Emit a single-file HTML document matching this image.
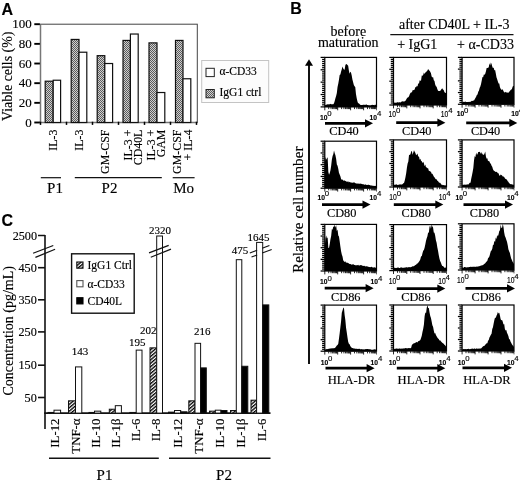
<!DOCTYPE html>
<html><head><meta charset="utf-8"><title>Figure</title>
<style>
html,body{margin:0;padding:0;background:#fff;}
body{width:520px;height:482px;overflow:hidden;font-family:"Liberation Serif",serif;}
svg{display:block}
text{fill:#000;stroke:#000;stroke-width:0.15px}
</style></head><body>
<svg width="520" height="482" viewBox="0 0 520 482">
<defs>
<pattern id="chk" width="2" height="2" patternUnits="userSpaceOnUse"><rect width="2" height="2" fill="#cfcfcf"/><rect width="1" height="1" fill="#5c5c5c"/><rect x="1" y="1" width="1" height="1" fill="#5c5c5c"/></pattern>
<pattern id="hat" width="2.6" height="2.6" patternUnits="userSpaceOnUse" patternTransform="rotate(-40)"><rect width="2.6" height="2.6" fill="#fff"/><rect width="2.6" height="1.35" fill="#000"/></pattern>
<filter id="soft" x="0" y="0" width="100%" height="100%" filterUnits="userSpaceOnUse" color-interpolation-filters="sRGB"><feGaussianBlur stdDeviation="0.4"/></filter>
</defs>
<rect width="520" height="482" fill="#fff"/>
<g filter="url(#soft)">
<text x="1.5" y="14.5" font-size="16" text-anchor="start" font-family="Liberation Sans, sans-serif" font-weight="bold" >A</text>
<rect x="40.5" y="24.2" width="156.8" height="98.3" fill="#fff" stroke="#444" stroke-width="1"/>
<line x1="40.5" y1="24.2" x2="40.5" y2="122.5" stroke="#777" stroke-width="1.5"/>
<line x1="39.8" y1="122.5" x2="197.3" y2="122.5" stroke="#777" stroke-width="1.5"/>
<line x1="34.3" y1="122.5" x2="39.9" y2="122.5" stroke="#000" stroke-width="1.9"/>
<text x="31.8" y="126.7" font-size="13" text-anchor="end" font-family="Liberation Serif, serif" font-weight="normal" >0</text>
<line x1="34.3" y1="102.84" x2="39.9" y2="102.84" stroke="#000" stroke-width="1.9"/>
<text x="31.8" y="107.04" font-size="13" text-anchor="end" font-family="Liberation Serif, serif" font-weight="normal" >20</text>
<line x1="34.3" y1="83.18" x2="39.9" y2="83.18" stroke="#000" stroke-width="1.9"/>
<text x="31.8" y="87.38000000000001" font-size="13" text-anchor="end" font-family="Liberation Serif, serif" font-weight="normal" >40</text>
<line x1="34.3" y1="63.52" x2="39.9" y2="63.52" stroke="#000" stroke-width="1.9"/>
<text x="31.8" y="67.72" font-size="13" text-anchor="end" font-family="Liberation Serif, serif" font-weight="normal" >60</text>
<line x1="34.3" y1="43.86" x2="39.9" y2="43.86" stroke="#000" stroke-width="1.9"/>
<text x="31.8" y="48.06" font-size="13" text-anchor="end" font-family="Liberation Serif, serif" font-weight="normal" >80</text>
<line x1="34.3" y1="24.200000000000003" x2="39.9" y2="24.200000000000003" stroke="#000" stroke-width="1.9"/>
<text x="31.8" y="28.400000000000002" font-size="13" text-anchor="end" font-family="Liberation Serif, serif" font-weight="normal" >100</text>
<line x1="40.5" y1="121.7" x2="40.5" y2="124.9" stroke="#000" stroke-width="1.5"/>
<line x1="66.5" y1="121.7" x2="66.5" y2="124.9" stroke="#000" stroke-width="1.5"/>
<line x1="92.5" y1="121.7" x2="92.5" y2="124.9" stroke="#000" stroke-width="1.5"/>
<line x1="118.5" y1="121.7" x2="118.5" y2="124.9" stroke="#000" stroke-width="1.5"/>
<line x1="144.5" y1="121.7" x2="144.5" y2="124.9" stroke="#000" stroke-width="1.5"/>
<line x1="170.5" y1="121.7" x2="170.5" y2="124.9" stroke="#000" stroke-width="1.5"/>
<line x1="196.5" y1="121.7" x2="196.5" y2="124.9" stroke="#000" stroke-width="1.5"/>
<text transform="translate(12.3,121) rotate(-90)" font-size="13.9" text-anchor="start" font-family="Liberation Serif, serif">Viable cells (%)</text>
<rect x="45.20" y="81.21" width="8.00" height="41.29" fill="url(#chk)" stroke="#111" stroke-width="1.2"/>
<rect x="53.20" y="80.23" width="7.40" height="42.27" fill="#fff" stroke="#111" stroke-width="1.2"/>
<rect x="71.20" y="39.44" width="7.80" height="83.06" fill="url(#chk)" stroke="#111" stroke-width="1.2"/>
<rect x="79.00" y="52.22" width="7.80" height="70.28" fill="#fff" stroke="#111" stroke-width="1.2"/>
<rect x="97.20" y="55.66" width="7.60" height="66.84" fill="url(#chk)" stroke="#111" stroke-width="1.2"/>
<rect x="104.80" y="63.52" width="7.80" height="58.98" fill="#fff" stroke="#111" stroke-width="1.2"/>
<rect x="123.00" y="40.42" width="7.40" height="82.08" fill="url(#chk)" stroke="#111" stroke-width="1.2"/>
<rect x="130.40" y="34.03" width="7.80" height="88.47" fill="#fff" stroke="#111" stroke-width="1.2"/>
<rect x="149.00" y="42.88" width="8.00" height="79.62" fill="url(#chk)" stroke="#111" stroke-width="1.2"/>
<rect x="157.00" y="92.52" width="7.80" height="29.98" fill="#fff" stroke="#111" stroke-width="1.2"/>
<rect x="175.50" y="40.42" width="7.50" height="82.08" fill="url(#chk)" stroke="#111" stroke-width="1.2"/>
<rect x="183.00" y="78.76" width="7.80" height="43.74" fill="#fff" stroke="#111" stroke-width="1.2"/>
<text transform="translate(57,129.6) rotate(-90)" font-size="11.9" text-anchor="end" font-family="Liberation Serif, serif">IL-3</text>
<text transform="translate(83,129.6) rotate(-90)" font-size="11.9" text-anchor="end" font-family="Liberation Serif, serif">IL-3</text>
<text transform="translate(109,129.6) rotate(-90)" font-size="11.9" text-anchor="end" font-family="Liberation Serif, serif">GM-CSF</text>
<text transform="translate(132,129.6) rotate(-90)" font-size="11.9" text-anchor="end" font-family="Liberation Serif, serif">IL-3 +</text>
<text transform="translate(142,129.6) rotate(-90)" font-size="11.9" text-anchor="end" font-family="Liberation Serif, serif">CD40L</text>
<text transform="translate(154.5,129.6) rotate(-90)" font-size="11.9" text-anchor="end" font-family="Liberation Serif, serif">IL-3 +</text>
<text transform="translate(164.5,129.6) rotate(-90)" font-size="11.9" text-anchor="end" font-family="Liberation Serif, serif">GAM</text>
<text transform="translate(181,129.6) rotate(-90)" font-size="11.9" text-anchor="end" font-family="Liberation Serif, serif">GM-CSF</text>
<text transform="translate(191.5,129.6) rotate(-90)" font-size="11.9" text-anchor="end" font-family="Liberation Serif, serif">+ IL-4</text>
<line x1="40.8" y1="177.7" x2="61" y2="177.7" stroke="#111" stroke-width="1.2"/>
<line x1="74.8" y1="177.7" x2="161.8" y2="177.7" stroke="#111" stroke-width="1.2"/>
<line x1="172.7" y1="177.7" x2="194.6" y2="177.7" stroke="#111" stroke-width="1.2"/>
<text x="55" y="193" font-size="15" text-anchor="middle" font-family="Liberation Serif, serif" font-weight="normal" >P1</text>
<text x="109.5" y="193" font-size="15" text-anchor="middle" font-family="Liberation Serif, serif" font-weight="normal" >P2</text>
<text x="183.7" y="193" font-size="15" text-anchor="middle" font-family="Liberation Serif, serif" font-weight="normal" >Mo</text>
<rect x="201.7" y="60.5" width="67" height="42" fill="#fcfcfc" stroke="#c4c4c4" stroke-width="1"/>
<rect x="206.00" y="68.30" width="8.30" height="8.30" fill="#fff" stroke="#222" stroke-width="1"/>
<text x="219.5" y="75" font-size="11.5" text-anchor="start" font-family="Liberation Serif, serif" font-weight="normal" >α-CD33</text>
<rect x="206.00" y="89.50" width="8.30" height="8.30" fill="url(#chk)" stroke="#222" stroke-width="1"/>
<text x="219.5" y="96" font-size="11.5" text-anchor="start" font-family="Liberation Serif, serif" font-weight="normal" >IgG1 ctrl</text>
<text x="1.5" y="226" font-size="16" text-anchor="start" font-family="Liberation Sans, sans-serif" font-weight="bold" >C</text>
<line x1="45" y1="235" x2="45" y2="429" stroke="#111" stroke-width="1.6"/>
<line x1="44.2" y1="413.1" x2="270.5" y2="413.1" stroke="#111" stroke-width="1.6"/>
<line x1="38" y1="397.5" x2="45" y2="397.5" stroke="#111" stroke-width="1.6"/>
<text x="36.8" y="401.7" font-size="12.2" text-anchor="end" font-family="Liberation Serif, serif" font-weight="normal" >50</text>
<line x1="38" y1="365.2" x2="45" y2="365.2" stroke="#111" stroke-width="1.6"/>
<text x="36.8" y="369.4" font-size="12.2" text-anchor="end" font-family="Liberation Serif, serif" font-weight="normal" >150</text>
<line x1="38" y1="331.9" x2="45" y2="331.9" stroke="#111" stroke-width="1.6"/>
<text x="36.8" y="336.09999999999997" font-size="12.2" text-anchor="end" font-family="Liberation Serif, serif" font-weight="normal" >250</text>
<line x1="38" y1="299.8" x2="45" y2="299.8" stroke="#111" stroke-width="1.6"/>
<text x="36.8" y="304.0" font-size="12.2" text-anchor="end" font-family="Liberation Serif, serif" font-weight="normal" >350</text>
<line x1="38" y1="267.7" x2="45" y2="267.7" stroke="#111" stroke-width="1.6"/>
<text x="36.8" y="271.9" font-size="12.2" text-anchor="end" font-family="Liberation Serif, serif" font-weight="normal" >450</text>
<line x1="38" y1="235.5" x2="45" y2="235.5" stroke="#111" stroke-width="1.5"/>
<text x="37" y="239.5" font-size="12.2" text-anchor="end" font-family="Liberation Serif, serif" font-weight="normal" >2500</text>
<line x1="35.4" y1="257.4" x2="55.1" y2="249.3" stroke="#111" stroke-width="1.2"/>
<line x1="33.1" y1="253.3" x2="53.3" y2="245.5" stroke="#111" stroke-width="1.2"/>
<text transform="translate(12.5,395.5) rotate(-90)" font-size="14" text-anchor="start" font-family="Liberation Serif, serif">Concentration (pg/mL)</text>
<rect x="71.60" y="253.80" width="62.60" height="59.40" fill="#fff" stroke="#111" stroke-width="1.4"/>
<rect x="76.80" y="262.00" width="6.20" height="6.20" fill="url(#hat)" stroke="#111" stroke-width="1.1"/>
<rect x="76.80" y="280.60" width="6.20" height="6.20" fill="#fff" stroke="#555" stroke-width="1.1"/>
<rect x="76.80" y="297.70" width="6.20" height="6.20" fill="#000" stroke="#000" stroke-width="1.1"/>
<text x="87.5" y="269.2" font-size="11.5" text-anchor="start" font-family="Liberation Serif, serif" font-weight="normal" >IgG1 Ctrl</text>
<text x="87.5" y="287.6" font-size="11.5" text-anchor="start" font-family="Liberation Serif, serif" font-weight="normal" >α-CD33</text>
<text x="87.5" y="305" font-size="11.5" text-anchor="start" font-family="Liberation Serif, serif" font-weight="normal" >CD40L</text>
<rect x="48.00" y="412.45" width="6.00" height="0.65" fill="url(#hat)" stroke="#111" stroke-width="1"/>
<rect x="54.00" y="410.19" width="6.60" height="2.91" fill="#fff" stroke="#111" stroke-width="1"/>
<rect x="68.50" y="400.83" width="7.00" height="12.27" fill="url(#hat)" stroke="#111" stroke-width="1"/>
<rect x="75.50" y="366.91" width="6.30" height="46.19" fill="#fff" stroke="#111" stroke-width="1"/>
<rect x="89.00" y="412.45" width="5.50" height="0.65" fill="url(#hat)" stroke="#111" stroke-width="1"/>
<rect x="94.50" y="411.16" width="6.30" height="1.94" fill="#fff" stroke="#111" stroke-width="1"/>
<rect x="109.30" y="409.22" width="6.00" height="3.88" fill="url(#hat)" stroke="#111" stroke-width="1"/>
<rect x="115.30" y="405.67" width="6.10" height="7.43" fill="#fff" stroke="#111" stroke-width="1"/>
<rect x="129.80" y="412.45" width="6.40" height="0.65" fill="url(#hat)" stroke="#111" stroke-width="1"/>
<rect x="136.20" y="350.12" width="5.80" height="62.99" fill="#fff" stroke="#111" stroke-width="1"/>
<rect x="150.00" y="347.85" width="6.70" height="65.25" fill="url(#hat)" stroke="#111" stroke-width="1"/>
<rect x="156.70" y="236.00" width="5.80" height="177.10" fill="#fff" stroke="#111" stroke-width="1"/>
<rect x="168.50" y="412.13" width="6.00" height="0.97" fill="url(#hat)" stroke="#111" stroke-width="1"/>
<rect x="174.50" y="410.52" width="6.20" height="2.58" fill="#fff" stroke="#111" stroke-width="1"/>
<rect x="180.70" y="411.81" width="6.30" height="1.29" fill="#000" stroke="#111" stroke-width="1"/>
<rect x="188.80" y="400.83" width="6.20" height="12.27" fill="url(#hat)" stroke="#111" stroke-width="1"/>
<rect x="195.00" y="343.33" width="5.60" height="69.77" fill="#fff" stroke="#111" stroke-width="1"/>
<rect x="200.60" y="367.88" width="5.70" height="45.22" fill="#000" stroke="#111" stroke-width="1"/>
<rect x="209.50" y="411.16" width="5.80" height="1.94" fill="url(#hat)" stroke="#111" stroke-width="1"/>
<rect x="215.30" y="410.19" width="5.70" height="2.91" fill="#fff" stroke="#111" stroke-width="1"/>
<rect x="221.00" y="410.52" width="6.00" height="2.58" fill="#000" stroke="#111" stroke-width="1"/>
<rect x="230.50" y="410.52" width="5.80" height="2.58" fill="url(#hat)" stroke="#111" stroke-width="1"/>
<rect x="236.30" y="259.68" width="5.50" height="153.43" fill="#fff" stroke="#111" stroke-width="1"/>
<rect x="241.80" y="366.27" width="6.00" height="46.83" fill="#000" stroke="#111" stroke-width="1"/>
<rect x="251.00" y="400.18" width="5.60" height="12.92" fill="url(#hat)" stroke="#111" stroke-width="1"/>
<rect x="256.60" y="242.40" width="6.10" height="170.70" fill="#fff" stroke="#111" stroke-width="1"/>
<rect x="262.70" y="304.90" width="6.10" height="108.20" fill="#000" stroke="#111" stroke-width="1"/>
<line x1="149" y1="252.9" x2="168.7" y2="245.4" stroke="#111" stroke-width="1.2"/>
<line x1="150.8" y1="257.2" x2="171" y2="249.1" stroke="#111" stroke-width="1.2"/>
<line x1="249.80" y1="253.00" x2="257.10" y2="250.21" stroke="#111" stroke-width="1.1"/>
<line x1="262.20" y1="248.26" x2="269.40" y2="245.50" stroke="#111" stroke-width="1.1"/>
<line x1="251.50" y1="257.10" x2="257.10" y2="254.99" stroke="#111" stroke-width="1.1"/>
<line x1="262.20" y1="253.07" x2="271.70" y2="249.50" stroke="#111" stroke-width="1.1"/>
<text x="160" y="233.8" font-size="11" text-anchor="middle" font-family="Liberation Serif, serif" font-weight="normal" >2320</text>
<text x="148.3" y="333.8" font-size="11" text-anchor="middle" font-family="Liberation Serif, serif" font-weight="normal" >202</text>
<text x="137.3" y="345.6" font-size="11" text-anchor="middle" font-family="Liberation Serif, serif" font-weight="normal" >195</text>
<text x="80.1" y="354.9" font-size="11" text-anchor="middle" font-family="Liberation Serif, serif" font-weight="normal" >143</text>
<text x="202.3" y="335" font-size="11" text-anchor="middle" font-family="Liberation Serif, serif" font-weight="normal" >216</text>
<text x="240" y="254" font-size="11" text-anchor="middle" font-family="Liberation Serif, serif" font-weight="normal" >475</text>
<text x="258.4" y="241.2" font-size="11" text-anchor="middle" font-family="Liberation Serif, serif" font-weight="normal" >1645</text>
<text transform="translate(59,418.5) rotate(-90)" font-size="12.8" text-anchor="end" font-family="Liberation Serif, serif">IL-12</text>
<text transform="translate(79.5,418.5) rotate(-90)" font-size="12.8" text-anchor="end" font-family="Liberation Serif, serif">TNF-α</text>
<text transform="translate(100,418.5) rotate(-90)" font-size="12.8" text-anchor="end" font-family="Liberation Serif, serif">IL-10</text>
<text transform="translate(120.3,418.5) rotate(-90)" font-size="12.8" text-anchor="end" font-family="Liberation Serif, serif">IL-1β</text>
<text transform="translate(139.5,418.5) rotate(-90)" font-size="12.8" text-anchor="end" font-family="Liberation Serif, serif">IL-6</text>
<text transform="translate(160,418.5) rotate(-90)" font-size="12.8" text-anchor="end" font-family="Liberation Serif, serif">IL-8</text>
<text transform="translate(182,418.5) rotate(-90)" font-size="12.8" text-anchor="end" font-family="Liberation Serif, serif">IL-12</text>
<text transform="translate(203.3,418.5) rotate(-90)" font-size="12.8" text-anchor="end" font-family="Liberation Serif, serif">TNF-α</text>
<text transform="translate(224.3,418.5) rotate(-90)" font-size="12.8" text-anchor="end" font-family="Liberation Serif, serif">IL-10</text>
<text transform="translate(245.3,418.5) rotate(-90)" font-size="12.8" text-anchor="end" font-family="Liberation Serif, serif">IL-1β</text>
<text transform="translate(265.5,418.5) rotate(-90)" font-size="12.8" text-anchor="end" font-family="Liberation Serif, serif">IL-6</text>
<line x1="49" y1="458.3" x2="158.8" y2="458.3" stroke="#111" stroke-width="1.4"/>
<line x1="169" y1="458.3" x2="270.5" y2="458.3" stroke="#111" stroke-width="1.4"/>
<text x="104.5" y="480" font-size="15" text-anchor="middle" font-family="Liberation Serif, serif" font-weight="normal" >P1</text>
<text x="224" y="480" font-size="15" text-anchor="middle" font-family="Liberation Serif, serif" font-weight="normal" >P2</text>
<text x="290.3" y="13.8" font-size="16" text-anchor="start" font-family="Liberation Sans, sans-serif" font-weight="bold" >B</text>
<text x="348.3" y="35.8" font-size="14" text-anchor="middle" font-family="Liberation Serif, serif" font-weight="normal" >before</text>
<text x="348.3" y="46.6" font-size="14" text-anchor="middle" font-family="Liberation Serif, serif" font-weight="normal" >maturation</text>
<text x="454.2" y="29" font-size="14" text-anchor="middle" font-family="Liberation Serif, serif" font-weight="normal" >after CD40L + IL-3</text>
<line x1="390.3" y1="34.6" x2="513.5" y2="34.6" stroke="#111" stroke-width="1.4"/>
<text x="417.3" y="48.5" font-size="14" text-anchor="middle" font-family="Liberation Serif, serif" font-weight="normal" >+ IgG1</text>
<text x="485.5" y="48.5" font-size="14" text-anchor="middle" font-family="Liberation Serif, serif" font-weight="normal" >+ α-CD33</text>
<line x1="309" y1="64" x2="309" y2="364" stroke="#111" stroke-width="2"/>
<polygon points="309,59.3 305,65.8 313,65.8" fill="#000"/>
<text transform="translate(303,273) rotate(-90)" font-size="15.2" text-anchor="start" font-family="Liberation Serif, serif">Relative cell number</text>
<rect x="324.8" y="57.4" width="51.7" height="49.5" fill="#fff" stroke="#000" stroke-width="1.2"/>
<path d="M324.80,106.90L324.80,105.36L325.51,105.06L326.22,104.65L326.92,104.44L327.63,104.33L328.34,104.52L329.05,103.96L329.76,104.42L330.47,103.82L331.17,104.16L331.88,104.23L332.59,104.13L333.30,104.36L334.01,103.33L334.72,101.08L335.42,98.22L336.13,95.93L336.84,92.91L337.55,87.11L338.26,83.83L338.96,79.77L339.67,74.93L340.38,74.44L341.09,71.43L341.80,69.23L342.51,66.45L343.21,68.41L343.92,69.57L344.63,69.66L345.34,65.17L346.05,64.08L346.75,64.33L347.46,65.02L348.17,65.83L348.88,70.46L349.59,73.65L350.30,71.79L351.00,72.60L351.71,75.52L352.42,79.43L353.13,82.27L353.84,84.95L354.55,86.32L355.25,86.88L355.96,94.09L356.67,98.01L357.38,101.25L358.09,103.16L358.79,103.34L359.50,104.04L360.21,104.76L360.92,104.94L361.63,104.99L362.34,105.04L363.04,104.86L363.75,104.65L364.46,104.80L365.17,105.09L365.88,104.61L366.58,104.60L367.29,104.96L368.00,104.89L368.71,105.23L369.42,105.14L370.13,105.18L370.83,105.20L371.54,105.05L372.25,104.76L372.96,105.05L373.67,105.02L374.38,105.13L375.08,104.49L375.79,104.89L376.50,105.21L376.50,106.90Z" fill="#000"/>
<line x1="320.6" y1="57.40" x2="324.8" y2="57.40" stroke="#000" stroke-width="1.25"/>
<line x1="322.1" y1="59.46" x2="324.8" y2="59.46" stroke="#000" stroke-width="1.25"/>
<line x1="322.1" y1="61.52" x2="324.8" y2="61.52" stroke="#000" stroke-width="1.25"/>
<line x1="322.1" y1="63.59" x2="324.8" y2="63.59" stroke="#000" stroke-width="1.25"/>
<line x1="322.1" y1="65.65" x2="324.8" y2="65.65" stroke="#000" stroke-width="1.25"/>
<line x1="322.1" y1="67.71" x2="324.8" y2="67.71" stroke="#000" stroke-width="1.25"/>
<line x1="320.6" y1="69.78" x2="324.8" y2="69.78" stroke="#000" stroke-width="1.25"/>
<line x1="322.1" y1="71.84" x2="324.8" y2="71.84" stroke="#000" stroke-width="1.25"/>
<line x1="322.1" y1="73.90" x2="324.8" y2="73.90" stroke="#000" stroke-width="1.25"/>
<line x1="322.1" y1="75.96" x2="324.8" y2="75.96" stroke="#000" stroke-width="1.25"/>
<line x1="322.1" y1="78.03" x2="324.8" y2="78.03" stroke="#000" stroke-width="1.25"/>
<line x1="322.1" y1="80.09" x2="324.8" y2="80.09" stroke="#000" stroke-width="1.25"/>
<line x1="320.6" y1="82.15" x2="324.8" y2="82.15" stroke="#000" stroke-width="1.25"/>
<line x1="322.1" y1="84.21" x2="324.8" y2="84.21" stroke="#000" stroke-width="1.25"/>
<line x1="322.1" y1="86.28" x2="324.8" y2="86.28" stroke="#000" stroke-width="1.25"/>
<line x1="322.1" y1="88.34" x2="324.8" y2="88.34" stroke="#000" stroke-width="1.25"/>
<line x1="322.1" y1="90.40" x2="324.8" y2="90.40" stroke="#000" stroke-width="1.25"/>
<line x1="322.1" y1="92.46" x2="324.8" y2="92.46" stroke="#000" stroke-width="1.25"/>
<line x1="320.6" y1="94.53" x2="324.8" y2="94.53" stroke="#000" stroke-width="1.25"/>
<line x1="322.1" y1="96.59" x2="324.8" y2="96.59" stroke="#000" stroke-width="1.25"/>
<line x1="322.1" y1="98.65" x2="324.8" y2="98.65" stroke="#000" stroke-width="1.25"/>
<line x1="322.1" y1="100.71" x2="324.8" y2="100.71" stroke="#000" stroke-width="1.25"/>
<line x1="322.1" y1="102.78" x2="324.8" y2="102.78" stroke="#000" stroke-width="1.25"/>
<line x1="322.1" y1="104.84" x2="324.8" y2="104.84" stroke="#000" stroke-width="1.25"/>
<line x1="320.6" y1="106.90" x2="324.8" y2="106.90" stroke="#000" stroke-width="1.25"/>
<line x1="324.8" y1="106.9" x2="324.8" y2="110.3" stroke="#111" stroke-width="0.9"/>
<line x1="328.7" y1="106.9" x2="328.7" y2="109.1" stroke="#111" stroke-width="0.9"/>
<line x1="331.0" y1="106.9" x2="331.0" y2="109.1" stroke="#111" stroke-width="0.9"/>
<line x1="332.6" y1="106.9" x2="332.6" y2="109.1" stroke="#111" stroke-width="0.9"/>
<line x1="333.8" y1="106.9" x2="333.8" y2="109.1" stroke="#111" stroke-width="0.9"/>
<line x1="334.9" y1="106.9" x2="334.9" y2="109.1" stroke="#111" stroke-width="0.9"/>
<line x1="335.7" y1="106.9" x2="335.7" y2="109.1" stroke="#111" stroke-width="0.9"/>
<line x1="336.5" y1="106.9" x2="336.5" y2="109.1" stroke="#111" stroke-width="0.9"/>
<line x1="337.1" y1="106.9" x2="337.1" y2="109.1" stroke="#111" stroke-width="0.9"/>
<line x1="337.7" y1="106.9" x2="337.7" y2="110.3" stroke="#111" stroke-width="0.9"/>
<line x1="341.6" y1="106.9" x2="341.6" y2="109.1" stroke="#111" stroke-width="0.9"/>
<line x1="343.9" y1="106.9" x2="343.9" y2="109.1" stroke="#111" stroke-width="0.9"/>
<line x1="345.5" y1="106.9" x2="345.5" y2="109.1" stroke="#111" stroke-width="0.9"/>
<line x1="346.8" y1="106.9" x2="346.8" y2="109.1" stroke="#111" stroke-width="0.9"/>
<line x1="347.8" y1="106.9" x2="347.8" y2="109.1" stroke="#111" stroke-width="0.9"/>
<line x1="348.6" y1="106.9" x2="348.6" y2="109.1" stroke="#111" stroke-width="0.9"/>
<line x1="349.4" y1="106.9" x2="349.4" y2="109.1" stroke="#111" stroke-width="0.9"/>
<line x1="350.1" y1="106.9" x2="350.1" y2="109.1" stroke="#111" stroke-width="0.9"/>
<line x1="350.6" y1="106.9" x2="350.6" y2="110.3" stroke="#111" stroke-width="0.9"/>
<line x1="354.5" y1="106.9" x2="354.5" y2="109.1" stroke="#111" stroke-width="0.9"/>
<line x1="356.8" y1="106.9" x2="356.8" y2="109.1" stroke="#111" stroke-width="0.9"/>
<line x1="358.4" y1="106.9" x2="358.4" y2="109.1" stroke="#111" stroke-width="0.9"/>
<line x1="359.7" y1="106.9" x2="359.7" y2="109.1" stroke="#111" stroke-width="0.9"/>
<line x1="360.7" y1="106.9" x2="360.7" y2="109.1" stroke="#111" stroke-width="0.9"/>
<line x1="361.6" y1="106.9" x2="361.6" y2="109.1" stroke="#111" stroke-width="0.9"/>
<line x1="362.3" y1="106.9" x2="362.3" y2="109.1" stroke="#111" stroke-width="0.9"/>
<line x1="363.0" y1="106.9" x2="363.0" y2="109.1" stroke="#111" stroke-width="0.9"/>
<line x1="363.6" y1="106.9" x2="363.6" y2="110.3" stroke="#111" stroke-width="0.9"/>
<line x1="367.5" y1="106.9" x2="367.5" y2="109.1" stroke="#111" stroke-width="0.9"/>
<line x1="369.7" y1="106.9" x2="369.7" y2="109.1" stroke="#111" stroke-width="0.9"/>
<line x1="371.4" y1="106.9" x2="371.4" y2="109.1" stroke="#111" stroke-width="0.9"/>
<line x1="372.6" y1="106.9" x2="372.6" y2="109.1" stroke="#111" stroke-width="0.9"/>
<line x1="373.6" y1="106.9" x2="373.6" y2="109.1" stroke="#111" stroke-width="0.9"/>
<line x1="374.5" y1="106.9" x2="374.5" y2="109.1" stroke="#111" stroke-width="0.9"/>
<line x1="375.2" y1="106.9" x2="375.2" y2="109.1" stroke="#111" stroke-width="0.9"/>
<line x1="375.9" y1="106.9" x2="375.9" y2="109.1" stroke="#111" stroke-width="0.9"/>
<line x1="376.5" y1="106.9" x2="376.5" y2="110.3" stroke="#222" stroke-width="0.7"/>
<text x="319.9" y="119.5" font-size="8.0" font-family="Liberation Sans, sans-serif" font-weight="bold" textLength="7.5" lengthAdjust="spacingAndGlyphs">10</text>
<text x="327.3" y="115.8" font-size="7.8" font-family="Liberation Sans, sans-serif">0</text>
<text x="369.6" y="119.5" font-size="8.0" font-family="Liberation Sans, sans-serif" font-weight="bold" textLength="7.5" lengthAdjust="spacingAndGlyphs">10</text>
<text x="377.0" y="115.8" font-size="7.8" font-family="Liberation Sans, sans-serif">4</text>
<line x1="325.0" y1="123.3" x2="366.5" y2="123.3" stroke="#000" stroke-width="2.8"/>
<polygon points="373.0,123.3 365.0,119.2 365.0,127.4" fill="#000"/>
<text x="344.0" y="134.8" font-size="12.3" text-anchor="middle" font-family="Liberation Serif, serif" font-weight="normal" >CD40</text>
<rect x="393.5" y="57.4" width="53.0" height="47.6" fill="#fff" stroke="#000" stroke-width="1.2"/>
<path d="M393.50,105.00L393.50,102.99L394.21,102.87L394.91,102.59L395.62,102.86L396.33,102.87L397.03,102.28L397.74,102.29L398.45,102.62L399.15,102.37L399.86,102.20L400.57,102.50L401.27,101.66L401.98,101.52L402.69,101.34L403.39,101.51L404.10,101.51L404.81,101.32L405.51,100.75L406.22,99.60L406.93,98.20L407.63,97.42L408.34,97.21L409.05,96.25L409.75,94.24L410.46,93.08L411.17,92.20L411.87,92.56L412.58,90.24L413.29,89.97L413.99,90.24L414.70,89.20L415.41,87.04L416.11,87.13L416.82,85.82L417.53,86.50L418.23,83.02L418.94,84.11L419.65,80.16L420.35,80.84L421.06,80.53L421.77,75.60L422.47,75.68L423.18,74.93L423.89,72.53L424.59,73.92L425.30,72.75L426.01,71.71L426.71,71.45L427.42,70.47L428.13,68.93L428.83,70.04L429.54,70.65L430.25,71.64L430.95,73.18L431.66,76.39L432.37,77.50L433.07,77.02L433.78,80.22L434.49,81.07L435.19,84.55L435.90,86.21L436.61,86.73L437.31,89.11L438.02,90.65L438.73,91.01L439.43,90.94L440.14,90.98L440.85,90.02L441.55,88.90L442.26,88.33L442.97,89.44L443.67,90.01L444.38,91.89L445.09,92.65L445.79,92.92L446.50,92.11L446.50,105.00Z" fill="#000"/>
<line x1="389.3" y1="57.40" x2="393.5" y2="57.40" stroke="#000" stroke-width="1.25"/>
<line x1="390.8" y1="59.38" x2="393.5" y2="59.38" stroke="#000" stroke-width="1.25"/>
<line x1="390.8" y1="61.37" x2="393.5" y2="61.37" stroke="#000" stroke-width="1.25"/>
<line x1="390.8" y1="63.35" x2="393.5" y2="63.35" stroke="#000" stroke-width="1.25"/>
<line x1="390.8" y1="65.33" x2="393.5" y2="65.33" stroke="#000" stroke-width="1.25"/>
<line x1="390.8" y1="67.32" x2="393.5" y2="67.32" stroke="#000" stroke-width="1.25"/>
<line x1="389.3" y1="69.30" x2="393.5" y2="69.30" stroke="#000" stroke-width="1.25"/>
<line x1="390.8" y1="71.28" x2="393.5" y2="71.28" stroke="#000" stroke-width="1.25"/>
<line x1="390.8" y1="73.27" x2="393.5" y2="73.27" stroke="#000" stroke-width="1.25"/>
<line x1="390.8" y1="75.25" x2="393.5" y2="75.25" stroke="#000" stroke-width="1.25"/>
<line x1="390.8" y1="77.23" x2="393.5" y2="77.23" stroke="#000" stroke-width="1.25"/>
<line x1="390.8" y1="79.22" x2="393.5" y2="79.22" stroke="#000" stroke-width="1.25"/>
<line x1="389.3" y1="81.20" x2="393.5" y2="81.20" stroke="#000" stroke-width="1.25"/>
<line x1="390.8" y1="83.18" x2="393.5" y2="83.18" stroke="#000" stroke-width="1.25"/>
<line x1="390.8" y1="85.17" x2="393.5" y2="85.17" stroke="#000" stroke-width="1.25"/>
<line x1="390.8" y1="87.15" x2="393.5" y2="87.15" stroke="#000" stroke-width="1.25"/>
<line x1="390.8" y1="89.13" x2="393.5" y2="89.13" stroke="#000" stroke-width="1.25"/>
<line x1="390.8" y1="91.12" x2="393.5" y2="91.12" stroke="#000" stroke-width="1.25"/>
<line x1="389.3" y1="93.10" x2="393.5" y2="93.10" stroke="#000" stroke-width="1.25"/>
<line x1="390.8" y1="95.08" x2="393.5" y2="95.08" stroke="#000" stroke-width="1.25"/>
<line x1="390.8" y1="97.07" x2="393.5" y2="97.07" stroke="#000" stroke-width="1.25"/>
<line x1="390.8" y1="99.05" x2="393.5" y2="99.05" stroke="#000" stroke-width="1.25"/>
<line x1="390.8" y1="101.03" x2="393.5" y2="101.03" stroke="#000" stroke-width="1.25"/>
<line x1="390.8" y1="103.02" x2="393.5" y2="103.02" stroke="#000" stroke-width="1.25"/>
<line x1="389.3" y1="105.00" x2="393.5" y2="105.00" stroke="#000" stroke-width="1.25"/>
<line x1="393.5" y1="105.0" x2="393.5" y2="108.4" stroke="#111" stroke-width="0.9"/>
<line x1="397.5" y1="105.0" x2="397.5" y2="107.2" stroke="#111" stroke-width="0.9"/>
<line x1="399.8" y1="105.0" x2="399.8" y2="107.2" stroke="#111" stroke-width="0.9"/>
<line x1="401.5" y1="105.0" x2="401.5" y2="107.2" stroke="#111" stroke-width="0.9"/>
<line x1="402.8" y1="105.0" x2="402.8" y2="107.2" stroke="#111" stroke-width="0.9"/>
<line x1="403.8" y1="105.0" x2="403.8" y2="107.2" stroke="#111" stroke-width="0.9"/>
<line x1="404.7" y1="105.0" x2="404.7" y2="107.2" stroke="#111" stroke-width="0.9"/>
<line x1="405.5" y1="105.0" x2="405.5" y2="107.2" stroke="#111" stroke-width="0.9"/>
<line x1="406.1" y1="105.0" x2="406.1" y2="107.2" stroke="#111" stroke-width="0.9"/>
<line x1="406.8" y1="105.0" x2="406.8" y2="108.4" stroke="#111" stroke-width="0.9"/>
<line x1="410.7" y1="105.0" x2="410.7" y2="107.2" stroke="#111" stroke-width="0.9"/>
<line x1="413.1" y1="105.0" x2="413.1" y2="107.2" stroke="#111" stroke-width="0.9"/>
<line x1="414.7" y1="105.0" x2="414.7" y2="107.2" stroke="#111" stroke-width="0.9"/>
<line x1="416.0" y1="105.0" x2="416.0" y2="107.2" stroke="#111" stroke-width="0.9"/>
<line x1="417.1" y1="105.0" x2="417.1" y2="107.2" stroke="#111" stroke-width="0.9"/>
<line x1="417.9" y1="105.0" x2="417.9" y2="107.2" stroke="#111" stroke-width="0.9"/>
<line x1="418.7" y1="105.0" x2="418.7" y2="107.2" stroke="#111" stroke-width="0.9"/>
<line x1="419.4" y1="105.0" x2="419.4" y2="107.2" stroke="#111" stroke-width="0.9"/>
<line x1="420.0" y1="105.0" x2="420.0" y2="108.4" stroke="#111" stroke-width="0.9"/>
<line x1="424.0" y1="105.0" x2="424.0" y2="107.2" stroke="#111" stroke-width="0.9"/>
<line x1="426.3" y1="105.0" x2="426.3" y2="107.2" stroke="#111" stroke-width="0.9"/>
<line x1="428.0" y1="105.0" x2="428.0" y2="107.2" stroke="#111" stroke-width="0.9"/>
<line x1="429.3" y1="105.0" x2="429.3" y2="107.2" stroke="#111" stroke-width="0.9"/>
<line x1="430.3" y1="105.0" x2="430.3" y2="107.2" stroke="#111" stroke-width="0.9"/>
<line x1="431.2" y1="105.0" x2="431.2" y2="107.2" stroke="#111" stroke-width="0.9"/>
<line x1="432.0" y1="105.0" x2="432.0" y2="107.2" stroke="#111" stroke-width="0.9"/>
<line x1="432.6" y1="105.0" x2="432.6" y2="107.2" stroke="#111" stroke-width="0.9"/>
<line x1="433.2" y1="105.0" x2="433.2" y2="108.4" stroke="#111" stroke-width="0.9"/>
<line x1="437.2" y1="105.0" x2="437.2" y2="107.2" stroke="#111" stroke-width="0.9"/>
<line x1="439.6" y1="105.0" x2="439.6" y2="107.2" stroke="#111" stroke-width="0.9"/>
<line x1="441.2" y1="105.0" x2="441.2" y2="107.2" stroke="#111" stroke-width="0.9"/>
<line x1="442.5" y1="105.0" x2="442.5" y2="107.2" stroke="#111" stroke-width="0.9"/>
<line x1="443.6" y1="105.0" x2="443.6" y2="107.2" stroke="#111" stroke-width="0.9"/>
<line x1="444.4" y1="105.0" x2="444.4" y2="107.2" stroke="#111" stroke-width="0.9"/>
<line x1="445.2" y1="105.0" x2="445.2" y2="107.2" stroke="#111" stroke-width="0.9"/>
<line x1="445.9" y1="105.0" x2="445.9" y2="107.2" stroke="#111" stroke-width="0.9"/>
<line x1="446.5" y1="105.0" x2="446.5" y2="108.4" stroke="#222" stroke-width="0.7"/>
<text x="388.5" y="116.5" font-size="8.3" font-family="Liberation Sans, sans-serif" font-weight="normal" textLength="7.5" lengthAdjust="spacingAndGlyphs">10</text>
<text x="395.9" y="112.8" font-size="7.8" font-family="Liberation Sans, sans-serif">0</text>
<text x="440.8" y="116.5" font-size="8.3" font-family="Liberation Sans, sans-serif" font-weight="normal" textLength="7.5" lengthAdjust="spacingAndGlyphs">10</text>
<text x="448.2" y="112.8" font-size="7.8" font-family="Liberation Sans, sans-serif">4</text>
<line x1="396.2" y1="122.7" x2="438.9" y2="122.7" stroke="#000" stroke-width="2.8"/>
<polygon points="445.4,122.7 437.4,118.6 437.4,126.8" fill="#000"/>
<text x="416.8" y="134.8" font-size="12.3" text-anchor="middle" font-family="Liberation Serif, serif" font-weight="normal" >CD40</text>
<rect x="462.1" y="57.4" width="51.9" height="46.9" fill="#fff" stroke="#000" stroke-width="1.2"/>
<path d="M462.10,104.30L462.10,102.11L462.80,102.26L463.50,101.70L464.20,101.85L464.91,102.03L465.61,101.62L466.31,102.05L467.01,101.96L467.71,102.03L468.41,102.00L469.11,101.77L469.81,101.97L470.52,101.63L471.22,101.29L471.92,100.68L472.62,101.04L473.32,100.47L474.02,100.39L474.72,99.28L475.43,97.94L476.13,96.80L476.83,95.08L477.53,94.52L478.23,91.63L478.93,90.72L479.63,87.89L480.34,86.60L481.04,84.02L481.74,80.40L482.44,77.10L483.14,77.14L483.84,74.54L484.54,74.87L485.24,73.78L485.95,71.30L486.65,67.88L487.35,67.95L488.05,67.76L488.75,67.28L489.45,63.34L490.15,65.49L490.86,62.57L491.56,64.08L492.26,66.61L492.96,68.32L493.66,67.60L494.36,70.38L495.06,69.79L495.76,73.31L496.47,77.34L497.17,79.32L497.87,81.41L498.57,83.54L499.27,83.39L499.97,87.21L500.67,88.71L501.38,89.67L502.08,89.81L502.78,89.33L503.48,91.14L504.18,92.03L504.88,92.74L505.58,91.87L506.29,92.33L506.99,92.80L507.69,92.58L508.39,92.83L509.09,91.96L509.79,90.98L510.49,90.28L511.19,89.48L511.90,89.23L512.60,86.78L513.30,85.84L514.00,86.27L514.00,104.30Z" fill="#000"/>
<line x1="457.9" y1="57.40" x2="462.1" y2="57.40" stroke="#000" stroke-width="1.25"/>
<line x1="459.4" y1="59.35" x2="462.1" y2="59.35" stroke="#000" stroke-width="1.25"/>
<line x1="459.4" y1="61.31" x2="462.1" y2="61.31" stroke="#000" stroke-width="1.25"/>
<line x1="459.4" y1="63.26" x2="462.1" y2="63.26" stroke="#000" stroke-width="1.25"/>
<line x1="459.4" y1="65.22" x2="462.1" y2="65.22" stroke="#000" stroke-width="1.25"/>
<line x1="459.4" y1="67.17" x2="462.1" y2="67.17" stroke="#000" stroke-width="1.25"/>
<line x1="457.9" y1="69.12" x2="462.1" y2="69.12" stroke="#000" stroke-width="1.25"/>
<line x1="459.4" y1="71.08" x2="462.1" y2="71.08" stroke="#000" stroke-width="1.25"/>
<line x1="459.4" y1="73.03" x2="462.1" y2="73.03" stroke="#000" stroke-width="1.25"/>
<line x1="459.4" y1="74.99" x2="462.1" y2="74.99" stroke="#000" stroke-width="1.25"/>
<line x1="459.4" y1="76.94" x2="462.1" y2="76.94" stroke="#000" stroke-width="1.25"/>
<line x1="459.4" y1="78.90" x2="462.1" y2="78.90" stroke="#000" stroke-width="1.25"/>
<line x1="457.9" y1="80.85" x2="462.1" y2="80.85" stroke="#000" stroke-width="1.25"/>
<line x1="459.4" y1="82.80" x2="462.1" y2="82.80" stroke="#000" stroke-width="1.25"/>
<line x1="459.4" y1="84.76" x2="462.1" y2="84.76" stroke="#000" stroke-width="1.25"/>
<line x1="459.4" y1="86.71" x2="462.1" y2="86.71" stroke="#000" stroke-width="1.25"/>
<line x1="459.4" y1="88.67" x2="462.1" y2="88.67" stroke="#000" stroke-width="1.25"/>
<line x1="459.4" y1="90.62" x2="462.1" y2="90.62" stroke="#000" stroke-width="1.25"/>
<line x1="457.9" y1="92.57" x2="462.1" y2="92.57" stroke="#000" stroke-width="1.25"/>
<line x1="459.4" y1="94.53" x2="462.1" y2="94.53" stroke="#000" stroke-width="1.25"/>
<line x1="459.4" y1="96.48" x2="462.1" y2="96.48" stroke="#000" stroke-width="1.25"/>
<line x1="459.4" y1="98.44" x2="462.1" y2="98.44" stroke="#000" stroke-width="1.25"/>
<line x1="459.4" y1="100.39" x2="462.1" y2="100.39" stroke="#000" stroke-width="1.25"/>
<line x1="459.4" y1="102.35" x2="462.1" y2="102.35" stroke="#000" stroke-width="1.25"/>
<line x1="457.9" y1="104.30" x2="462.1" y2="104.30" stroke="#000" stroke-width="1.25"/>
<line x1="462.1" y1="104.3" x2="462.1" y2="107.7" stroke="#111" stroke-width="0.9"/>
<line x1="466.0" y1="104.3" x2="466.0" y2="106.5" stroke="#111" stroke-width="0.9"/>
<line x1="468.3" y1="104.3" x2="468.3" y2="106.5" stroke="#111" stroke-width="0.9"/>
<line x1="469.9" y1="104.3" x2="469.9" y2="106.5" stroke="#111" stroke-width="0.9"/>
<line x1="471.2" y1="104.3" x2="471.2" y2="106.5" stroke="#111" stroke-width="0.9"/>
<line x1="472.2" y1="104.3" x2="472.2" y2="106.5" stroke="#111" stroke-width="0.9"/>
<line x1="473.1" y1="104.3" x2="473.1" y2="106.5" stroke="#111" stroke-width="0.9"/>
<line x1="473.8" y1="104.3" x2="473.8" y2="106.5" stroke="#111" stroke-width="0.9"/>
<line x1="474.5" y1="104.3" x2="474.5" y2="106.5" stroke="#111" stroke-width="0.9"/>
<line x1="475.1" y1="104.3" x2="475.1" y2="107.7" stroke="#111" stroke-width="0.9"/>
<line x1="479.0" y1="104.3" x2="479.0" y2="106.5" stroke="#111" stroke-width="0.9"/>
<line x1="481.3" y1="104.3" x2="481.3" y2="106.5" stroke="#111" stroke-width="0.9"/>
<line x1="482.9" y1="104.3" x2="482.9" y2="106.5" stroke="#111" stroke-width="0.9"/>
<line x1="484.1" y1="104.3" x2="484.1" y2="106.5" stroke="#111" stroke-width="0.9"/>
<line x1="485.2" y1="104.3" x2="485.2" y2="106.5" stroke="#111" stroke-width="0.9"/>
<line x1="486.0" y1="104.3" x2="486.0" y2="106.5" stroke="#111" stroke-width="0.9"/>
<line x1="486.8" y1="104.3" x2="486.8" y2="106.5" stroke="#111" stroke-width="0.9"/>
<line x1="487.5" y1="104.3" x2="487.5" y2="106.5" stroke="#111" stroke-width="0.9"/>
<line x1="488.1" y1="104.3" x2="488.1" y2="107.7" stroke="#111" stroke-width="0.9"/>
<line x1="492.0" y1="104.3" x2="492.0" y2="106.5" stroke="#111" stroke-width="0.9"/>
<line x1="494.2" y1="104.3" x2="494.2" y2="106.5" stroke="#111" stroke-width="0.9"/>
<line x1="495.9" y1="104.3" x2="495.9" y2="106.5" stroke="#111" stroke-width="0.9"/>
<line x1="497.1" y1="104.3" x2="497.1" y2="106.5" stroke="#111" stroke-width="0.9"/>
<line x1="498.1" y1="104.3" x2="498.1" y2="106.5" stroke="#111" stroke-width="0.9"/>
<line x1="499.0" y1="104.3" x2="499.0" y2="106.5" stroke="#111" stroke-width="0.9"/>
<line x1="499.8" y1="104.3" x2="499.8" y2="106.5" stroke="#111" stroke-width="0.9"/>
<line x1="500.4" y1="104.3" x2="500.4" y2="106.5" stroke="#111" stroke-width="0.9"/>
<line x1="501.0" y1="104.3" x2="501.0" y2="107.7" stroke="#111" stroke-width="0.9"/>
<line x1="504.9" y1="104.3" x2="504.9" y2="106.5" stroke="#111" stroke-width="0.9"/>
<line x1="507.2" y1="104.3" x2="507.2" y2="106.5" stroke="#111" stroke-width="0.9"/>
<line x1="508.8" y1="104.3" x2="508.8" y2="106.5" stroke="#111" stroke-width="0.9"/>
<line x1="510.1" y1="104.3" x2="510.1" y2="106.5" stroke="#111" stroke-width="0.9"/>
<line x1="511.1" y1="104.3" x2="511.1" y2="106.5" stroke="#111" stroke-width="0.9"/>
<line x1="512.0" y1="104.3" x2="512.0" y2="106.5" stroke="#111" stroke-width="0.9"/>
<line x1="512.7" y1="104.3" x2="512.7" y2="106.5" stroke="#111" stroke-width="0.9"/>
<line x1="513.4" y1="104.3" x2="513.4" y2="106.5" stroke="#111" stroke-width="0.9"/>
<line x1="514.0" y1="104.3" x2="514.0" y2="107.7" stroke="#222" stroke-width="0.7"/>
<text x="456.7" y="116.3" font-size="8.0" font-family="Liberation Sans, sans-serif" font-weight="bold" textLength="7.5" lengthAdjust="spacingAndGlyphs">10</text>
<text x="464.1" y="112.6" font-size="7.8" font-family="Liberation Sans, sans-serif">0</text>
<text x="511.2" y="116.3" font-size="8.0" font-family="Liberation Sans, sans-serif" font-weight="bold" textLength="7.5" lengthAdjust="spacingAndGlyphs">10</text>
<text x="518.6" y="112.6" font-size="7.8" font-family="Liberation Sans, sans-serif">4</text>
<line x1="466.2" y1="122.9" x2="510.8" y2="122.9" stroke="#000" stroke-width="2.8"/>
<polygon points="517.3,122.9 509.3,118.8 509.3,127.0" fill="#000"/>
<text x="485.6" y="134.8" font-size="12.3" text-anchor="middle" font-family="Liberation Serif, serif" font-weight="normal" >CD40</text>
<rect x="324.8" y="141.2" width="51.7" height="47.0" fill="#fff" stroke="#000" stroke-width="1.2"/>
<path d="M324.80,188.20L324.80,163.06L325.51,156.76L326.22,159.69L326.92,158.28L327.63,157.35L328.34,171.90L329.05,174.78L329.76,173.07L330.47,170.25L331.17,165.64L331.88,159.51L332.59,155.97L333.30,154.20L334.01,150.38L334.72,153.27L335.42,155.15L336.13,158.68L336.84,164.49L337.55,165.68L338.26,168.68L338.96,172.63L339.67,174.58L340.38,176.26L341.09,178.90L341.80,179.86L342.51,179.45L343.21,180.15L343.92,180.88L344.63,180.32L345.34,180.88L346.05,181.26L346.75,181.83L347.46,181.68L348.17,181.31L348.88,182.48L349.59,181.65L350.30,182.45L351.00,182.36L351.71,182.67L352.42,182.86L353.13,182.59L353.84,182.59L354.55,182.55L355.25,183.00L355.96,183.43L356.67,183.59L357.38,183.51L358.09,183.79L358.79,183.51L359.50,183.85L360.21,183.83L360.92,183.56L361.63,183.92L362.34,184.26L363.04,183.94L363.75,184.46L364.46,184.83L365.17,184.57L365.88,184.53L366.58,185.03L367.29,185.07L368.00,184.80L368.71,184.79L369.42,184.94L370.13,185.15L370.83,185.62L371.54,185.50L372.25,185.46L372.96,186.02L373.67,185.85L374.38,185.93L375.08,185.82L375.79,185.97L376.50,186.11L376.50,188.20Z" fill="#000"/>
<line x1="320.6" y1="141.20" x2="324.8" y2="141.20" stroke="#000" stroke-width="1.25"/>
<line x1="322.1" y1="143.16" x2="324.8" y2="143.16" stroke="#000" stroke-width="1.25"/>
<line x1="322.1" y1="145.12" x2="324.8" y2="145.12" stroke="#000" stroke-width="1.25"/>
<line x1="322.1" y1="147.08" x2="324.8" y2="147.08" stroke="#000" stroke-width="1.25"/>
<line x1="322.1" y1="149.03" x2="324.8" y2="149.03" stroke="#000" stroke-width="1.25"/>
<line x1="322.1" y1="150.99" x2="324.8" y2="150.99" stroke="#000" stroke-width="1.25"/>
<line x1="320.6" y1="152.95" x2="324.8" y2="152.95" stroke="#000" stroke-width="1.25"/>
<line x1="322.1" y1="154.91" x2="324.8" y2="154.91" stroke="#000" stroke-width="1.25"/>
<line x1="322.1" y1="156.87" x2="324.8" y2="156.87" stroke="#000" stroke-width="1.25"/>
<line x1="322.1" y1="158.83" x2="324.8" y2="158.83" stroke="#000" stroke-width="1.25"/>
<line x1="322.1" y1="160.78" x2="324.8" y2="160.78" stroke="#000" stroke-width="1.25"/>
<line x1="322.1" y1="162.74" x2="324.8" y2="162.74" stroke="#000" stroke-width="1.25"/>
<line x1="320.6" y1="164.70" x2="324.8" y2="164.70" stroke="#000" stroke-width="1.25"/>
<line x1="322.1" y1="166.66" x2="324.8" y2="166.66" stroke="#000" stroke-width="1.25"/>
<line x1="322.1" y1="168.62" x2="324.8" y2="168.62" stroke="#000" stroke-width="1.25"/>
<line x1="322.1" y1="170.58" x2="324.8" y2="170.58" stroke="#000" stroke-width="1.25"/>
<line x1="322.1" y1="172.53" x2="324.8" y2="172.53" stroke="#000" stroke-width="1.25"/>
<line x1="322.1" y1="174.49" x2="324.8" y2="174.49" stroke="#000" stroke-width="1.25"/>
<line x1="320.6" y1="176.45" x2="324.8" y2="176.45" stroke="#000" stroke-width="1.25"/>
<line x1="322.1" y1="178.41" x2="324.8" y2="178.41" stroke="#000" stroke-width="1.25"/>
<line x1="322.1" y1="180.37" x2="324.8" y2="180.37" stroke="#000" stroke-width="1.25"/>
<line x1="322.1" y1="182.33" x2="324.8" y2="182.33" stroke="#000" stroke-width="1.25"/>
<line x1="322.1" y1="184.28" x2="324.8" y2="184.28" stroke="#000" stroke-width="1.25"/>
<line x1="322.1" y1="186.24" x2="324.8" y2="186.24" stroke="#000" stroke-width="1.25"/>
<line x1="320.6" y1="188.20" x2="324.8" y2="188.20" stroke="#000" stroke-width="1.25"/>
<line x1="324.8" y1="188.2" x2="324.8" y2="191.6" stroke="#111" stroke-width="0.9"/>
<line x1="328.7" y1="188.2" x2="328.7" y2="190.4" stroke="#111" stroke-width="0.9"/>
<line x1="331.0" y1="188.2" x2="331.0" y2="190.4" stroke="#111" stroke-width="0.9"/>
<line x1="332.6" y1="188.2" x2="332.6" y2="190.4" stroke="#111" stroke-width="0.9"/>
<line x1="333.8" y1="188.2" x2="333.8" y2="190.4" stroke="#111" stroke-width="0.9"/>
<line x1="334.9" y1="188.2" x2="334.9" y2="190.4" stroke="#111" stroke-width="0.9"/>
<line x1="335.7" y1="188.2" x2="335.7" y2="190.4" stroke="#111" stroke-width="0.9"/>
<line x1="336.5" y1="188.2" x2="336.5" y2="190.4" stroke="#111" stroke-width="0.9"/>
<line x1="337.1" y1="188.2" x2="337.1" y2="190.4" stroke="#111" stroke-width="0.9"/>
<line x1="337.7" y1="188.2" x2="337.7" y2="191.6" stroke="#111" stroke-width="0.9"/>
<line x1="341.6" y1="188.2" x2="341.6" y2="190.4" stroke="#111" stroke-width="0.9"/>
<line x1="343.9" y1="188.2" x2="343.9" y2="190.4" stroke="#111" stroke-width="0.9"/>
<line x1="345.5" y1="188.2" x2="345.5" y2="190.4" stroke="#111" stroke-width="0.9"/>
<line x1="346.8" y1="188.2" x2="346.8" y2="190.4" stroke="#111" stroke-width="0.9"/>
<line x1="347.8" y1="188.2" x2="347.8" y2="190.4" stroke="#111" stroke-width="0.9"/>
<line x1="348.6" y1="188.2" x2="348.6" y2="190.4" stroke="#111" stroke-width="0.9"/>
<line x1="349.4" y1="188.2" x2="349.4" y2="190.4" stroke="#111" stroke-width="0.9"/>
<line x1="350.1" y1="188.2" x2="350.1" y2="190.4" stroke="#111" stroke-width="0.9"/>
<line x1="350.6" y1="188.2" x2="350.6" y2="191.6" stroke="#111" stroke-width="0.9"/>
<line x1="354.5" y1="188.2" x2="354.5" y2="190.4" stroke="#111" stroke-width="0.9"/>
<line x1="356.8" y1="188.2" x2="356.8" y2="190.4" stroke="#111" stroke-width="0.9"/>
<line x1="358.4" y1="188.2" x2="358.4" y2="190.4" stroke="#111" stroke-width="0.9"/>
<line x1="359.7" y1="188.2" x2="359.7" y2="190.4" stroke="#111" stroke-width="0.9"/>
<line x1="360.7" y1="188.2" x2="360.7" y2="190.4" stroke="#111" stroke-width="0.9"/>
<line x1="361.6" y1="188.2" x2="361.6" y2="190.4" stroke="#111" stroke-width="0.9"/>
<line x1="362.3" y1="188.2" x2="362.3" y2="190.4" stroke="#111" stroke-width="0.9"/>
<line x1="363.0" y1="188.2" x2="363.0" y2="190.4" stroke="#111" stroke-width="0.9"/>
<line x1="363.6" y1="188.2" x2="363.6" y2="191.6" stroke="#111" stroke-width="0.9"/>
<line x1="367.5" y1="188.2" x2="367.5" y2="190.4" stroke="#111" stroke-width="0.9"/>
<line x1="369.7" y1="188.2" x2="369.7" y2="190.4" stroke="#111" stroke-width="0.9"/>
<line x1="371.4" y1="188.2" x2="371.4" y2="190.4" stroke="#111" stroke-width="0.9"/>
<line x1="372.6" y1="188.2" x2="372.6" y2="190.4" stroke="#111" stroke-width="0.9"/>
<line x1="373.6" y1="188.2" x2="373.6" y2="190.4" stroke="#111" stroke-width="0.9"/>
<line x1="374.5" y1="188.2" x2="374.5" y2="190.4" stroke="#111" stroke-width="0.9"/>
<line x1="375.2" y1="188.2" x2="375.2" y2="190.4" stroke="#111" stroke-width="0.9"/>
<line x1="375.9" y1="188.2" x2="375.9" y2="190.4" stroke="#111" stroke-width="0.9"/>
<line x1="376.5" y1="188.2" x2="376.5" y2="191.6" stroke="#222" stroke-width="0.7"/>
<text x="317.4" y="200.0" font-size="8.0" font-family="Liberation Sans, sans-serif" font-weight="bold" textLength="7.5" lengthAdjust="spacingAndGlyphs">10</text>
<text x="324.8" y="196.3" font-size="7.8" font-family="Liberation Sans, sans-serif">0</text>
<text x="369.5" y="200.0" font-size="8.0" font-family="Liberation Sans, sans-serif" font-weight="bold" textLength="7.5" lengthAdjust="spacingAndGlyphs">10</text>
<text x="376.9" y="196.3" font-size="7.8" font-family="Liberation Sans, sans-serif">4</text>
<line x1="322.0" y1="204.6" x2="364.0" y2="204.6" stroke="#000" stroke-width="2.8"/>
<polygon points="370.5,204.6 362.5,200.5 362.5,208.7" fill="#000"/>
<text x="341.7" y="217.3" font-size="12.3" text-anchor="middle" font-family="Liberation Serif, serif" font-weight="normal" >CD80</text>
<rect x="393.5" y="139.9" width="53.0" height="47.1" fill="#fff" stroke="#000" stroke-width="1.2"/>
<path d="M393.50,187.00L393.50,184.88L394.21,185.07L394.91,184.60L395.62,184.87L396.33,184.28L397.03,184.85L397.74,184.92L398.45,184.83L399.15,184.73L399.86,184.23L400.57,184.40L401.27,184.41L401.98,184.38L402.69,184.04L403.39,183.20L404.10,182.63L404.81,180.20L405.51,176.99L406.22,172.90L406.93,167.50L407.63,163.53L408.34,161.57L409.05,154.63L409.75,155.10L410.46,154.35L411.17,151.50L411.87,150.93L412.58,154.86L413.29,152.39L413.99,150.14L414.70,151.72L415.41,153.06L416.11,155.20L416.82,154.52L417.53,153.51L418.23,157.09L418.94,155.89L419.65,159.64L420.35,158.87L421.06,160.69L421.77,161.13L422.47,163.02L423.18,161.84L423.89,163.35L424.59,166.17L425.30,164.47L426.01,167.42L426.71,167.20L427.42,168.33L428.13,168.14L428.83,170.66L429.54,171.10L430.25,171.42L430.95,171.86L431.66,173.69L432.37,173.76L433.07,175.04L433.78,176.59L434.49,177.28L435.19,178.38L435.90,179.36L436.61,179.28L437.31,180.75L438.02,181.01L438.73,182.23L439.43,182.74L440.14,182.79L440.85,183.64L441.55,184.79L442.26,184.73L442.97,185.17L443.67,185.06L444.38,185.23L445.09,185.52L445.79,185.37L446.50,185.43L446.50,187.00Z" fill="#000"/>
<line x1="389.3" y1="139.90" x2="393.5" y2="139.90" stroke="#000" stroke-width="1.25"/>
<line x1="390.8" y1="141.86" x2="393.5" y2="141.86" stroke="#000" stroke-width="1.25"/>
<line x1="390.8" y1="143.83" x2="393.5" y2="143.83" stroke="#000" stroke-width="1.25"/>
<line x1="390.8" y1="145.79" x2="393.5" y2="145.79" stroke="#000" stroke-width="1.25"/>
<line x1="390.8" y1="147.75" x2="393.5" y2="147.75" stroke="#000" stroke-width="1.25"/>
<line x1="390.8" y1="149.71" x2="393.5" y2="149.71" stroke="#000" stroke-width="1.25"/>
<line x1="389.3" y1="151.68" x2="393.5" y2="151.68" stroke="#000" stroke-width="1.25"/>
<line x1="390.8" y1="153.64" x2="393.5" y2="153.64" stroke="#000" stroke-width="1.25"/>
<line x1="390.8" y1="155.60" x2="393.5" y2="155.60" stroke="#000" stroke-width="1.25"/>
<line x1="390.8" y1="157.56" x2="393.5" y2="157.56" stroke="#000" stroke-width="1.25"/>
<line x1="390.8" y1="159.53" x2="393.5" y2="159.53" stroke="#000" stroke-width="1.25"/>
<line x1="390.8" y1="161.49" x2="393.5" y2="161.49" stroke="#000" stroke-width="1.25"/>
<line x1="389.3" y1="163.45" x2="393.5" y2="163.45" stroke="#000" stroke-width="1.25"/>
<line x1="390.8" y1="165.41" x2="393.5" y2="165.41" stroke="#000" stroke-width="1.25"/>
<line x1="390.8" y1="167.38" x2="393.5" y2="167.38" stroke="#000" stroke-width="1.25"/>
<line x1="390.8" y1="169.34" x2="393.5" y2="169.34" stroke="#000" stroke-width="1.25"/>
<line x1="390.8" y1="171.30" x2="393.5" y2="171.30" stroke="#000" stroke-width="1.25"/>
<line x1="390.8" y1="173.26" x2="393.5" y2="173.26" stroke="#000" stroke-width="1.25"/>
<line x1="389.3" y1="175.23" x2="393.5" y2="175.23" stroke="#000" stroke-width="1.25"/>
<line x1="390.8" y1="177.19" x2="393.5" y2="177.19" stroke="#000" stroke-width="1.25"/>
<line x1="390.8" y1="179.15" x2="393.5" y2="179.15" stroke="#000" stroke-width="1.25"/>
<line x1="390.8" y1="181.11" x2="393.5" y2="181.11" stroke="#000" stroke-width="1.25"/>
<line x1="390.8" y1="183.08" x2="393.5" y2="183.08" stroke="#000" stroke-width="1.25"/>
<line x1="390.8" y1="185.04" x2="393.5" y2="185.04" stroke="#000" stroke-width="1.25"/>
<line x1="389.3" y1="187.00" x2="393.5" y2="187.00" stroke="#000" stroke-width="1.25"/>
<line x1="393.5" y1="187.0" x2="393.5" y2="190.4" stroke="#111" stroke-width="0.9"/>
<line x1="397.5" y1="187.0" x2="397.5" y2="189.2" stroke="#111" stroke-width="0.9"/>
<line x1="399.8" y1="187.0" x2="399.8" y2="189.2" stroke="#111" stroke-width="0.9"/>
<line x1="401.5" y1="187.0" x2="401.5" y2="189.2" stroke="#111" stroke-width="0.9"/>
<line x1="402.8" y1="187.0" x2="402.8" y2="189.2" stroke="#111" stroke-width="0.9"/>
<line x1="403.8" y1="187.0" x2="403.8" y2="189.2" stroke="#111" stroke-width="0.9"/>
<line x1="404.7" y1="187.0" x2="404.7" y2="189.2" stroke="#111" stroke-width="0.9"/>
<line x1="405.5" y1="187.0" x2="405.5" y2="189.2" stroke="#111" stroke-width="0.9"/>
<line x1="406.1" y1="187.0" x2="406.1" y2="189.2" stroke="#111" stroke-width="0.9"/>
<line x1="406.8" y1="187.0" x2="406.8" y2="190.4" stroke="#111" stroke-width="0.9"/>
<line x1="410.7" y1="187.0" x2="410.7" y2="189.2" stroke="#111" stroke-width="0.9"/>
<line x1="413.1" y1="187.0" x2="413.1" y2="189.2" stroke="#111" stroke-width="0.9"/>
<line x1="414.7" y1="187.0" x2="414.7" y2="189.2" stroke="#111" stroke-width="0.9"/>
<line x1="416.0" y1="187.0" x2="416.0" y2="189.2" stroke="#111" stroke-width="0.9"/>
<line x1="417.1" y1="187.0" x2="417.1" y2="189.2" stroke="#111" stroke-width="0.9"/>
<line x1="417.9" y1="187.0" x2="417.9" y2="189.2" stroke="#111" stroke-width="0.9"/>
<line x1="418.7" y1="187.0" x2="418.7" y2="189.2" stroke="#111" stroke-width="0.9"/>
<line x1="419.4" y1="187.0" x2="419.4" y2="189.2" stroke="#111" stroke-width="0.9"/>
<line x1="420.0" y1="187.0" x2="420.0" y2="190.4" stroke="#111" stroke-width="0.9"/>
<line x1="424.0" y1="187.0" x2="424.0" y2="189.2" stroke="#111" stroke-width="0.9"/>
<line x1="426.3" y1="187.0" x2="426.3" y2="189.2" stroke="#111" stroke-width="0.9"/>
<line x1="428.0" y1="187.0" x2="428.0" y2="189.2" stroke="#111" stroke-width="0.9"/>
<line x1="429.3" y1="187.0" x2="429.3" y2="189.2" stroke="#111" stroke-width="0.9"/>
<line x1="430.3" y1="187.0" x2="430.3" y2="189.2" stroke="#111" stroke-width="0.9"/>
<line x1="431.2" y1="187.0" x2="431.2" y2="189.2" stroke="#111" stroke-width="0.9"/>
<line x1="432.0" y1="187.0" x2="432.0" y2="189.2" stroke="#111" stroke-width="0.9"/>
<line x1="432.6" y1="187.0" x2="432.6" y2="189.2" stroke="#111" stroke-width="0.9"/>
<line x1="433.2" y1="187.0" x2="433.2" y2="190.4" stroke="#111" stroke-width="0.9"/>
<line x1="437.2" y1="187.0" x2="437.2" y2="189.2" stroke="#111" stroke-width="0.9"/>
<line x1="439.6" y1="187.0" x2="439.6" y2="189.2" stroke="#111" stroke-width="0.9"/>
<line x1="441.2" y1="187.0" x2="441.2" y2="189.2" stroke="#111" stroke-width="0.9"/>
<line x1="442.5" y1="187.0" x2="442.5" y2="189.2" stroke="#111" stroke-width="0.9"/>
<line x1="443.6" y1="187.0" x2="443.6" y2="189.2" stroke="#111" stroke-width="0.9"/>
<line x1="444.4" y1="187.0" x2="444.4" y2="189.2" stroke="#111" stroke-width="0.9"/>
<line x1="445.2" y1="187.0" x2="445.2" y2="189.2" stroke="#111" stroke-width="0.9"/>
<line x1="445.9" y1="187.0" x2="445.9" y2="189.2" stroke="#111" stroke-width="0.9"/>
<line x1="446.5" y1="187.0" x2="446.5" y2="190.4" stroke="#222" stroke-width="0.7"/>
<text x="389.3" y="199.5" font-size="8.3" font-family="Liberation Sans, sans-serif" font-weight="normal" textLength="7.5" lengthAdjust="spacingAndGlyphs">10</text>
<text x="396.7" y="195.8" font-size="7.8" font-family="Liberation Sans, sans-serif">0</text>
<text x="438.8" y="199.5" font-size="8.3" font-family="Liberation Sans, sans-serif" font-weight="normal" textLength="7.5" lengthAdjust="spacingAndGlyphs">10</text>
<text x="446.2" y="195.8" font-size="7.8" font-family="Liberation Sans, sans-serif">4</text>
<line x1="393.8" y1="204.6" x2="436.8" y2="204.6" stroke="#000" stroke-width="2.8"/>
<polygon points="443.3,204.6 435.3,200.5 435.3,208.7" fill="#000"/>
<text x="416.2" y="217.3" font-size="12.3" text-anchor="middle" font-family="Liberation Serif, serif" font-weight="normal" >CD80</text>
<rect x="462.1" y="139.9" width="51.9" height="47.1" fill="#fff" stroke="#000" stroke-width="1.2"/>
<path d="M462.10,187.00L462.10,184.88L462.80,184.64L463.50,184.67L464.20,184.81L464.91,184.41L465.61,184.73L466.31,184.64L467.01,184.30L467.71,184.56L468.41,184.53L469.11,183.56L469.81,182.74L470.52,182.81L471.22,178.80L471.92,175.61L472.62,171.90L473.32,167.88L474.02,160.18L474.72,156.10L475.43,157.33L476.13,152.43L476.83,154.77L477.53,154.26L478.23,151.97L478.93,152.06L479.63,151.77L480.34,152.86L481.04,154.12L481.74,152.04L482.44,154.34L483.14,154.43L483.84,155.09L484.54,153.40L485.24,151.54L485.95,156.64L486.65,158.83L487.35,158.15L488.05,161.25L488.75,160.79L489.45,161.38L490.15,163.21L490.86,163.69L491.56,165.66L492.26,166.71L492.96,169.37L493.66,170.58L494.36,170.88L495.06,171.41L495.76,172.11L496.47,171.78L497.17,172.27L497.87,173.37L498.57,173.17L499.27,175.41L499.97,175.69L500.67,174.46L501.38,175.06L502.08,175.51L502.78,176.60L503.48,176.40L504.18,176.98L504.88,178.17L505.58,178.96L506.29,179.22L506.99,179.66L507.69,181.23L508.39,181.86L509.09,183.16L509.79,183.56L510.49,184.30L511.19,184.09L511.90,184.46L512.60,184.45L513.30,184.79L514.00,184.63L514.00,187.00Z" fill="#000"/>
<line x1="457.9" y1="139.90" x2="462.1" y2="139.90" stroke="#000" stroke-width="1.25"/>
<line x1="459.4" y1="141.86" x2="462.1" y2="141.86" stroke="#000" stroke-width="1.25"/>
<line x1="459.4" y1="143.83" x2="462.1" y2="143.83" stroke="#000" stroke-width="1.25"/>
<line x1="459.4" y1="145.79" x2="462.1" y2="145.79" stroke="#000" stroke-width="1.25"/>
<line x1="459.4" y1="147.75" x2="462.1" y2="147.75" stroke="#000" stroke-width="1.25"/>
<line x1="459.4" y1="149.71" x2="462.1" y2="149.71" stroke="#000" stroke-width="1.25"/>
<line x1="457.9" y1="151.68" x2="462.1" y2="151.68" stroke="#000" stroke-width="1.25"/>
<line x1="459.4" y1="153.64" x2="462.1" y2="153.64" stroke="#000" stroke-width="1.25"/>
<line x1="459.4" y1="155.60" x2="462.1" y2="155.60" stroke="#000" stroke-width="1.25"/>
<line x1="459.4" y1="157.56" x2="462.1" y2="157.56" stroke="#000" stroke-width="1.25"/>
<line x1="459.4" y1="159.53" x2="462.1" y2="159.53" stroke="#000" stroke-width="1.25"/>
<line x1="459.4" y1="161.49" x2="462.1" y2="161.49" stroke="#000" stroke-width="1.25"/>
<line x1="457.9" y1="163.45" x2="462.1" y2="163.45" stroke="#000" stroke-width="1.25"/>
<line x1="459.4" y1="165.41" x2="462.1" y2="165.41" stroke="#000" stroke-width="1.25"/>
<line x1="459.4" y1="167.38" x2="462.1" y2="167.38" stroke="#000" stroke-width="1.25"/>
<line x1="459.4" y1="169.34" x2="462.1" y2="169.34" stroke="#000" stroke-width="1.25"/>
<line x1="459.4" y1="171.30" x2="462.1" y2="171.30" stroke="#000" stroke-width="1.25"/>
<line x1="459.4" y1="173.26" x2="462.1" y2="173.26" stroke="#000" stroke-width="1.25"/>
<line x1="457.9" y1="175.23" x2="462.1" y2="175.23" stroke="#000" stroke-width="1.25"/>
<line x1="459.4" y1="177.19" x2="462.1" y2="177.19" stroke="#000" stroke-width="1.25"/>
<line x1="459.4" y1="179.15" x2="462.1" y2="179.15" stroke="#000" stroke-width="1.25"/>
<line x1="459.4" y1="181.11" x2="462.1" y2="181.11" stroke="#000" stroke-width="1.25"/>
<line x1="459.4" y1="183.08" x2="462.1" y2="183.08" stroke="#000" stroke-width="1.25"/>
<line x1="459.4" y1="185.04" x2="462.1" y2="185.04" stroke="#000" stroke-width="1.25"/>
<line x1="457.9" y1="187.00" x2="462.1" y2="187.00" stroke="#000" stroke-width="1.25"/>
<line x1="462.1" y1="187.0" x2="462.1" y2="190.4" stroke="#111" stroke-width="0.9"/>
<line x1="466.0" y1="187.0" x2="466.0" y2="189.2" stroke="#111" stroke-width="0.9"/>
<line x1="468.3" y1="187.0" x2="468.3" y2="189.2" stroke="#111" stroke-width="0.9"/>
<line x1="469.9" y1="187.0" x2="469.9" y2="189.2" stroke="#111" stroke-width="0.9"/>
<line x1="471.2" y1="187.0" x2="471.2" y2="189.2" stroke="#111" stroke-width="0.9"/>
<line x1="472.2" y1="187.0" x2="472.2" y2="189.2" stroke="#111" stroke-width="0.9"/>
<line x1="473.1" y1="187.0" x2="473.1" y2="189.2" stroke="#111" stroke-width="0.9"/>
<line x1="473.8" y1="187.0" x2="473.8" y2="189.2" stroke="#111" stroke-width="0.9"/>
<line x1="474.5" y1="187.0" x2="474.5" y2="189.2" stroke="#111" stroke-width="0.9"/>
<line x1="475.1" y1="187.0" x2="475.1" y2="190.4" stroke="#111" stroke-width="0.9"/>
<line x1="479.0" y1="187.0" x2="479.0" y2="189.2" stroke="#111" stroke-width="0.9"/>
<line x1="481.3" y1="187.0" x2="481.3" y2="189.2" stroke="#111" stroke-width="0.9"/>
<line x1="482.9" y1="187.0" x2="482.9" y2="189.2" stroke="#111" stroke-width="0.9"/>
<line x1="484.1" y1="187.0" x2="484.1" y2="189.2" stroke="#111" stroke-width="0.9"/>
<line x1="485.2" y1="187.0" x2="485.2" y2="189.2" stroke="#111" stroke-width="0.9"/>
<line x1="486.0" y1="187.0" x2="486.0" y2="189.2" stroke="#111" stroke-width="0.9"/>
<line x1="486.8" y1="187.0" x2="486.8" y2="189.2" stroke="#111" stroke-width="0.9"/>
<line x1="487.5" y1="187.0" x2="487.5" y2="189.2" stroke="#111" stroke-width="0.9"/>
<line x1="488.1" y1="187.0" x2="488.1" y2="190.4" stroke="#111" stroke-width="0.9"/>
<line x1="492.0" y1="187.0" x2="492.0" y2="189.2" stroke="#111" stroke-width="0.9"/>
<line x1="494.2" y1="187.0" x2="494.2" y2="189.2" stroke="#111" stroke-width="0.9"/>
<line x1="495.9" y1="187.0" x2="495.9" y2="189.2" stroke="#111" stroke-width="0.9"/>
<line x1="497.1" y1="187.0" x2="497.1" y2="189.2" stroke="#111" stroke-width="0.9"/>
<line x1="498.1" y1="187.0" x2="498.1" y2="189.2" stroke="#111" stroke-width="0.9"/>
<line x1="499.0" y1="187.0" x2="499.0" y2="189.2" stroke="#111" stroke-width="0.9"/>
<line x1="499.8" y1="187.0" x2="499.8" y2="189.2" stroke="#111" stroke-width="0.9"/>
<line x1="500.4" y1="187.0" x2="500.4" y2="189.2" stroke="#111" stroke-width="0.9"/>
<line x1="501.0" y1="187.0" x2="501.0" y2="190.4" stroke="#111" stroke-width="0.9"/>
<line x1="504.9" y1="187.0" x2="504.9" y2="189.2" stroke="#111" stroke-width="0.9"/>
<line x1="507.2" y1="187.0" x2="507.2" y2="189.2" stroke="#111" stroke-width="0.9"/>
<line x1="508.8" y1="187.0" x2="508.8" y2="189.2" stroke="#111" stroke-width="0.9"/>
<line x1="510.1" y1="187.0" x2="510.1" y2="189.2" stroke="#111" stroke-width="0.9"/>
<line x1="511.1" y1="187.0" x2="511.1" y2="189.2" stroke="#111" stroke-width="0.9"/>
<line x1="512.0" y1="187.0" x2="512.0" y2="189.2" stroke="#111" stroke-width="0.9"/>
<line x1="512.7" y1="187.0" x2="512.7" y2="189.2" stroke="#111" stroke-width="0.9"/>
<line x1="513.4" y1="187.0" x2="513.4" y2="189.2" stroke="#111" stroke-width="0.9"/>
<line x1="514.0" y1="187.0" x2="514.0" y2="190.4" stroke="#222" stroke-width="0.7"/>
<text x="455.4" y="200.0" font-size="8.0" font-family="Liberation Sans, sans-serif" font-weight="bold" textLength="7.5" lengthAdjust="spacingAndGlyphs">10</text>
<text x="462.8" y="196.3" font-size="7.8" font-family="Liberation Sans, sans-serif">0</text>
<text x="506.9" y="200.0" font-size="8.0" font-family="Liberation Sans, sans-serif" font-weight="bold" textLength="7.5" lengthAdjust="spacingAndGlyphs">10</text>
<text x="514.3" y="196.3" font-size="7.8" font-family="Liberation Sans, sans-serif">4</text>
<line x1="463.5" y1="204.6" x2="506.5" y2="204.6" stroke="#000" stroke-width="2.8"/>
<polygon points="513.0,204.6 505.0,200.5 505.0,208.7" fill="#000"/>
<text x="484.4" y="217.3" font-size="12.3" text-anchor="middle" font-family="Liberation Serif, serif" font-weight="normal" >CD80</text>
<rect x="324.8" y="224.4" width="51.7" height="46.6" fill="#fff" stroke="#000" stroke-width="1.2"/>
<path d="M324.80,271.00L324.80,245.73L325.51,237.96L326.22,235.56L326.92,238.61L327.63,237.22L328.34,247.94L329.05,247.81L329.76,244.05L330.47,239.32L331.17,236.01L331.88,229.04L332.59,229.79L333.30,226.17L334.01,227.25L334.72,224.40L335.42,227.71L336.13,225.09L336.84,231.34L337.55,229.60L338.26,235.46L338.96,236.59L339.67,241.26L340.38,246.47L341.09,251.18L341.80,254.51L342.51,256.61L343.21,260.14L343.92,261.15L344.63,262.10L345.34,261.32L346.05,262.69L346.75,262.49L347.46,262.73L348.17,263.11L348.88,263.58L349.59,263.98L350.30,264.04L351.00,264.25L351.71,264.63L352.42,264.53L353.13,264.08L353.84,264.79L354.55,264.92L355.25,265.13L355.96,265.25L356.67,265.23L357.38,265.21L358.09,264.85L358.79,265.53L359.50,265.46L360.21,265.37L360.92,265.06L361.63,265.36L362.34,265.74L363.04,265.65L363.75,265.92L364.46,265.68L365.17,266.56L365.88,266.34L366.58,266.30L367.29,266.52L368.00,266.38L368.71,267.01L369.42,266.91L370.13,267.34L370.83,266.95L371.54,266.81L372.25,267.22L372.96,267.49L373.67,267.44L374.38,267.34L375.08,267.42L375.79,267.68L376.50,267.93L376.50,271.00Z" fill="#000"/>
<line x1="320.6" y1="224.40" x2="324.8" y2="224.40" stroke="#000" stroke-width="1.25"/>
<line x1="322.1" y1="226.34" x2="324.8" y2="226.34" stroke="#000" stroke-width="1.25"/>
<line x1="322.1" y1="228.28" x2="324.8" y2="228.28" stroke="#000" stroke-width="1.25"/>
<line x1="322.1" y1="230.22" x2="324.8" y2="230.22" stroke="#000" stroke-width="1.25"/>
<line x1="322.1" y1="232.17" x2="324.8" y2="232.17" stroke="#000" stroke-width="1.25"/>
<line x1="322.1" y1="234.11" x2="324.8" y2="234.11" stroke="#000" stroke-width="1.25"/>
<line x1="320.6" y1="236.05" x2="324.8" y2="236.05" stroke="#000" stroke-width="1.25"/>
<line x1="322.1" y1="237.99" x2="324.8" y2="237.99" stroke="#000" stroke-width="1.25"/>
<line x1="322.1" y1="239.93" x2="324.8" y2="239.93" stroke="#000" stroke-width="1.25"/>
<line x1="322.1" y1="241.87" x2="324.8" y2="241.87" stroke="#000" stroke-width="1.25"/>
<line x1="322.1" y1="243.82" x2="324.8" y2="243.82" stroke="#000" stroke-width="1.25"/>
<line x1="322.1" y1="245.76" x2="324.8" y2="245.76" stroke="#000" stroke-width="1.25"/>
<line x1="320.6" y1="247.70" x2="324.8" y2="247.70" stroke="#000" stroke-width="1.25"/>
<line x1="322.1" y1="249.64" x2="324.8" y2="249.64" stroke="#000" stroke-width="1.25"/>
<line x1="322.1" y1="251.58" x2="324.8" y2="251.58" stroke="#000" stroke-width="1.25"/>
<line x1="322.1" y1="253.52" x2="324.8" y2="253.52" stroke="#000" stroke-width="1.25"/>
<line x1="322.1" y1="255.47" x2="324.8" y2="255.47" stroke="#000" stroke-width="1.25"/>
<line x1="322.1" y1="257.41" x2="324.8" y2="257.41" stroke="#000" stroke-width="1.25"/>
<line x1="320.6" y1="259.35" x2="324.8" y2="259.35" stroke="#000" stroke-width="1.25"/>
<line x1="322.1" y1="261.29" x2="324.8" y2="261.29" stroke="#000" stroke-width="1.25"/>
<line x1="322.1" y1="263.23" x2="324.8" y2="263.23" stroke="#000" stroke-width="1.25"/>
<line x1="322.1" y1="265.17" x2="324.8" y2="265.17" stroke="#000" stroke-width="1.25"/>
<line x1="322.1" y1="267.12" x2="324.8" y2="267.12" stroke="#000" stroke-width="1.25"/>
<line x1="322.1" y1="269.06" x2="324.8" y2="269.06" stroke="#000" stroke-width="1.25"/>
<line x1="320.6" y1="271.00" x2="324.8" y2="271.00" stroke="#000" stroke-width="1.25"/>
<line x1="324.8" y1="271.0" x2="324.8" y2="274.4" stroke="#111" stroke-width="0.9"/>
<line x1="328.7" y1="271.0" x2="328.7" y2="273.2" stroke="#111" stroke-width="0.9"/>
<line x1="331.0" y1="271.0" x2="331.0" y2="273.2" stroke="#111" stroke-width="0.9"/>
<line x1="332.6" y1="271.0" x2="332.6" y2="273.2" stroke="#111" stroke-width="0.9"/>
<line x1="333.8" y1="271.0" x2="333.8" y2="273.2" stroke="#111" stroke-width="0.9"/>
<line x1="334.9" y1="271.0" x2="334.9" y2="273.2" stroke="#111" stroke-width="0.9"/>
<line x1="335.7" y1="271.0" x2="335.7" y2="273.2" stroke="#111" stroke-width="0.9"/>
<line x1="336.5" y1="271.0" x2="336.5" y2="273.2" stroke="#111" stroke-width="0.9"/>
<line x1="337.1" y1="271.0" x2="337.1" y2="273.2" stroke="#111" stroke-width="0.9"/>
<line x1="337.7" y1="271.0" x2="337.7" y2="274.4" stroke="#111" stroke-width="0.9"/>
<line x1="341.6" y1="271.0" x2="341.6" y2="273.2" stroke="#111" stroke-width="0.9"/>
<line x1="343.9" y1="271.0" x2="343.9" y2="273.2" stroke="#111" stroke-width="0.9"/>
<line x1="345.5" y1="271.0" x2="345.5" y2="273.2" stroke="#111" stroke-width="0.9"/>
<line x1="346.8" y1="271.0" x2="346.8" y2="273.2" stroke="#111" stroke-width="0.9"/>
<line x1="347.8" y1="271.0" x2="347.8" y2="273.2" stroke="#111" stroke-width="0.9"/>
<line x1="348.6" y1="271.0" x2="348.6" y2="273.2" stroke="#111" stroke-width="0.9"/>
<line x1="349.4" y1="271.0" x2="349.4" y2="273.2" stroke="#111" stroke-width="0.9"/>
<line x1="350.1" y1="271.0" x2="350.1" y2="273.2" stroke="#111" stroke-width="0.9"/>
<line x1="350.6" y1="271.0" x2="350.6" y2="274.4" stroke="#111" stroke-width="0.9"/>
<line x1="354.5" y1="271.0" x2="354.5" y2="273.2" stroke="#111" stroke-width="0.9"/>
<line x1="356.8" y1="271.0" x2="356.8" y2="273.2" stroke="#111" stroke-width="0.9"/>
<line x1="358.4" y1="271.0" x2="358.4" y2="273.2" stroke="#111" stroke-width="0.9"/>
<line x1="359.7" y1="271.0" x2="359.7" y2="273.2" stroke="#111" stroke-width="0.9"/>
<line x1="360.7" y1="271.0" x2="360.7" y2="273.2" stroke="#111" stroke-width="0.9"/>
<line x1="361.6" y1="271.0" x2="361.6" y2="273.2" stroke="#111" stroke-width="0.9"/>
<line x1="362.3" y1="271.0" x2="362.3" y2="273.2" stroke="#111" stroke-width="0.9"/>
<line x1="363.0" y1="271.0" x2="363.0" y2="273.2" stroke="#111" stroke-width="0.9"/>
<line x1="363.6" y1="271.0" x2="363.6" y2="274.4" stroke="#111" stroke-width="0.9"/>
<line x1="367.5" y1="271.0" x2="367.5" y2="273.2" stroke="#111" stroke-width="0.9"/>
<line x1="369.7" y1="271.0" x2="369.7" y2="273.2" stroke="#111" stroke-width="0.9"/>
<line x1="371.4" y1="271.0" x2="371.4" y2="273.2" stroke="#111" stroke-width="0.9"/>
<line x1="372.6" y1="271.0" x2="372.6" y2="273.2" stroke="#111" stroke-width="0.9"/>
<line x1="373.6" y1="271.0" x2="373.6" y2="273.2" stroke="#111" stroke-width="0.9"/>
<line x1="374.5" y1="271.0" x2="374.5" y2="273.2" stroke="#111" stroke-width="0.9"/>
<line x1="375.2" y1="271.0" x2="375.2" y2="273.2" stroke="#111" stroke-width="0.9"/>
<line x1="375.9" y1="271.0" x2="375.9" y2="273.2" stroke="#111" stroke-width="0.9"/>
<line x1="376.5" y1="271.0" x2="376.5" y2="274.4" stroke="#222" stroke-width="0.7"/>
<text x="320.0" y="284.2" font-size="8.0" font-family="Liberation Sans, sans-serif" font-weight="bold" textLength="7.5" lengthAdjust="spacingAndGlyphs">10</text>
<text x="327.4" y="280.5" font-size="7.8" font-family="Liberation Sans, sans-serif">0</text>
<text x="370.5" y="284.2" font-size="8.0" font-family="Liberation Sans, sans-serif" font-weight="bold" textLength="7.5" lengthAdjust="spacingAndGlyphs">10</text>
<text x="377.9" y="280.5" font-size="7.8" font-family="Liberation Sans, sans-serif">4</text>
<line x1="324.7" y1="288.2" x2="367.1" y2="288.2" stroke="#000" stroke-width="2.8"/>
<polygon points="373.6,288.2 365.6,284.1 365.6,292.3" fill="#000"/>
<text x="345.8" y="300.7" font-size="12.3" text-anchor="middle" font-family="Liberation Serif, serif" font-weight="normal" >CD86</text>
<rect x="393.5" y="224.6" width="53.0" height="46.0" fill="#fff" stroke="#000" stroke-width="1.2"/>
<path d="M393.50,270.60L393.50,268.06L394.21,267.78L394.91,267.84L395.62,268.10L396.33,268.03L397.03,267.84L397.74,267.46L398.45,267.62L399.15,268.04L399.86,268.02L400.57,267.61L401.27,267.35L401.98,267.83L402.69,267.71L403.39,267.75L404.10,267.67L404.81,267.47L405.51,267.49L406.22,267.30L406.93,267.21L407.63,267.57L408.34,267.33L409.05,266.88L409.75,267.34L410.46,267.27L411.17,267.10L411.87,266.76L412.58,266.19L413.29,266.23L413.99,266.19L414.70,265.62L415.41,265.07L416.11,264.75L416.82,263.66L417.53,263.58L418.23,262.74L418.94,261.70L419.65,260.63L420.35,259.14L421.06,256.34L421.77,256.19L422.47,253.16L423.18,250.85L423.89,250.05L424.59,247.70L425.30,244.57L426.01,240.68L426.71,238.35L427.42,236.37L428.13,232.56L428.83,232.68L429.54,226.38L430.25,226.02L430.95,228.68L431.66,224.60L432.37,226.51L433.07,227.53L433.78,232.52L434.49,232.68L435.19,235.86L435.90,240.27L436.61,242.83L437.31,247.34L438.02,250.73L438.73,254.95L439.43,258.44L440.14,261.02L440.85,262.38L441.55,264.40L442.26,266.09L442.97,266.01L443.67,266.64L444.38,267.66L445.09,267.72L445.79,267.61L446.50,267.96L446.50,270.60Z" fill="#000"/>
<line x1="389.3" y1="224.60" x2="393.5" y2="224.60" stroke="#000" stroke-width="1.25"/>
<line x1="390.8" y1="226.52" x2="393.5" y2="226.52" stroke="#000" stroke-width="1.25"/>
<line x1="390.8" y1="228.43" x2="393.5" y2="228.43" stroke="#000" stroke-width="1.25"/>
<line x1="390.8" y1="230.35" x2="393.5" y2="230.35" stroke="#000" stroke-width="1.25"/>
<line x1="390.8" y1="232.27" x2="393.5" y2="232.27" stroke="#000" stroke-width="1.25"/>
<line x1="390.8" y1="234.18" x2="393.5" y2="234.18" stroke="#000" stroke-width="1.25"/>
<line x1="389.3" y1="236.10" x2="393.5" y2="236.10" stroke="#000" stroke-width="1.25"/>
<line x1="390.8" y1="238.02" x2="393.5" y2="238.02" stroke="#000" stroke-width="1.25"/>
<line x1="390.8" y1="239.93" x2="393.5" y2="239.93" stroke="#000" stroke-width="1.25"/>
<line x1="390.8" y1="241.85" x2="393.5" y2="241.85" stroke="#000" stroke-width="1.25"/>
<line x1="390.8" y1="243.77" x2="393.5" y2="243.77" stroke="#000" stroke-width="1.25"/>
<line x1="390.8" y1="245.68" x2="393.5" y2="245.68" stroke="#000" stroke-width="1.25"/>
<line x1="389.3" y1="247.60" x2="393.5" y2="247.60" stroke="#000" stroke-width="1.25"/>
<line x1="390.8" y1="249.52" x2="393.5" y2="249.52" stroke="#000" stroke-width="1.25"/>
<line x1="390.8" y1="251.43" x2="393.5" y2="251.43" stroke="#000" stroke-width="1.25"/>
<line x1="390.8" y1="253.35" x2="393.5" y2="253.35" stroke="#000" stroke-width="1.25"/>
<line x1="390.8" y1="255.27" x2="393.5" y2="255.27" stroke="#000" stroke-width="1.25"/>
<line x1="390.8" y1="257.18" x2="393.5" y2="257.18" stroke="#000" stroke-width="1.25"/>
<line x1="389.3" y1="259.10" x2="393.5" y2="259.10" stroke="#000" stroke-width="1.25"/>
<line x1="390.8" y1="261.02" x2="393.5" y2="261.02" stroke="#000" stroke-width="1.25"/>
<line x1="390.8" y1="262.93" x2="393.5" y2="262.93" stroke="#000" stroke-width="1.25"/>
<line x1="390.8" y1="264.85" x2="393.5" y2="264.85" stroke="#000" stroke-width="1.25"/>
<line x1="390.8" y1="266.77" x2="393.5" y2="266.77" stroke="#000" stroke-width="1.25"/>
<line x1="390.8" y1="268.68" x2="393.5" y2="268.68" stroke="#000" stroke-width="1.25"/>
<line x1="389.3" y1="270.60" x2="393.5" y2="270.60" stroke="#000" stroke-width="1.25"/>
<line x1="393.5" y1="270.6" x2="393.5" y2="274.0" stroke="#111" stroke-width="0.9"/>
<line x1="397.5" y1="270.6" x2="397.5" y2="272.8" stroke="#111" stroke-width="0.9"/>
<line x1="399.8" y1="270.6" x2="399.8" y2="272.8" stroke="#111" stroke-width="0.9"/>
<line x1="401.5" y1="270.6" x2="401.5" y2="272.8" stroke="#111" stroke-width="0.9"/>
<line x1="402.8" y1="270.6" x2="402.8" y2="272.8" stroke="#111" stroke-width="0.9"/>
<line x1="403.8" y1="270.6" x2="403.8" y2="272.8" stroke="#111" stroke-width="0.9"/>
<line x1="404.7" y1="270.6" x2="404.7" y2="272.8" stroke="#111" stroke-width="0.9"/>
<line x1="405.5" y1="270.6" x2="405.5" y2="272.8" stroke="#111" stroke-width="0.9"/>
<line x1="406.1" y1="270.6" x2="406.1" y2="272.8" stroke="#111" stroke-width="0.9"/>
<line x1="406.8" y1="270.6" x2="406.8" y2="274.0" stroke="#111" stroke-width="0.9"/>
<line x1="410.7" y1="270.6" x2="410.7" y2="272.8" stroke="#111" stroke-width="0.9"/>
<line x1="413.1" y1="270.6" x2="413.1" y2="272.8" stroke="#111" stroke-width="0.9"/>
<line x1="414.7" y1="270.6" x2="414.7" y2="272.8" stroke="#111" stroke-width="0.9"/>
<line x1="416.0" y1="270.6" x2="416.0" y2="272.8" stroke="#111" stroke-width="0.9"/>
<line x1="417.1" y1="270.6" x2="417.1" y2="272.8" stroke="#111" stroke-width="0.9"/>
<line x1="417.9" y1="270.6" x2="417.9" y2="272.8" stroke="#111" stroke-width="0.9"/>
<line x1="418.7" y1="270.6" x2="418.7" y2="272.8" stroke="#111" stroke-width="0.9"/>
<line x1="419.4" y1="270.6" x2="419.4" y2="272.8" stroke="#111" stroke-width="0.9"/>
<line x1="420.0" y1="270.6" x2="420.0" y2="274.0" stroke="#111" stroke-width="0.9"/>
<line x1="424.0" y1="270.6" x2="424.0" y2="272.8" stroke="#111" stroke-width="0.9"/>
<line x1="426.3" y1="270.6" x2="426.3" y2="272.8" stroke="#111" stroke-width="0.9"/>
<line x1="428.0" y1="270.6" x2="428.0" y2="272.8" stroke="#111" stroke-width="0.9"/>
<line x1="429.3" y1="270.6" x2="429.3" y2="272.8" stroke="#111" stroke-width="0.9"/>
<line x1="430.3" y1="270.6" x2="430.3" y2="272.8" stroke="#111" stroke-width="0.9"/>
<line x1="431.2" y1="270.6" x2="431.2" y2="272.8" stroke="#111" stroke-width="0.9"/>
<line x1="432.0" y1="270.6" x2="432.0" y2="272.8" stroke="#111" stroke-width="0.9"/>
<line x1="432.6" y1="270.6" x2="432.6" y2="272.8" stroke="#111" stroke-width="0.9"/>
<line x1="433.2" y1="270.6" x2="433.2" y2="274.0" stroke="#111" stroke-width="0.9"/>
<line x1="437.2" y1="270.6" x2="437.2" y2="272.8" stroke="#111" stroke-width="0.9"/>
<line x1="439.6" y1="270.6" x2="439.6" y2="272.8" stroke="#111" stroke-width="0.9"/>
<line x1="441.2" y1="270.6" x2="441.2" y2="272.8" stroke="#111" stroke-width="0.9"/>
<line x1="442.5" y1="270.6" x2="442.5" y2="272.8" stroke="#111" stroke-width="0.9"/>
<line x1="443.6" y1="270.6" x2="443.6" y2="272.8" stroke="#111" stroke-width="0.9"/>
<line x1="444.4" y1="270.6" x2="444.4" y2="272.8" stroke="#111" stroke-width="0.9"/>
<line x1="445.2" y1="270.6" x2="445.2" y2="272.8" stroke="#111" stroke-width="0.9"/>
<line x1="445.9" y1="270.6" x2="445.9" y2="272.8" stroke="#111" stroke-width="0.9"/>
<line x1="446.5" y1="270.6" x2="446.5" y2="274.0" stroke="#222" stroke-width="0.7"/>
<text x="388.7" y="284.0" font-size="8.3" font-family="Liberation Sans, sans-serif" font-weight="normal" textLength="7.5" lengthAdjust="spacingAndGlyphs">10</text>
<text x="396.1" y="280.3" font-size="7.8" font-family="Liberation Sans, sans-serif">0</text>
<text x="438.2" y="284.0" font-size="8.3" font-family="Liberation Sans, sans-serif" font-weight="normal" textLength="7.5" lengthAdjust="spacingAndGlyphs">10</text>
<text x="445.6" y="280.3" font-size="7.8" font-family="Liberation Sans, sans-serif">4</text>
<line x1="396.8" y1="288.6" x2="438.8" y2="288.6" stroke="#000" stroke-width="2.8"/>
<polygon points="445.3,288.6 437.3,284.5 437.3,292.7" fill="#000"/>
<text x="415.9" y="300.7" font-size="12.3" text-anchor="middle" font-family="Liberation Serif, serif" font-weight="normal" >CD86</text>
<rect x="462.1" y="223.8" width="51.9" height="46.2" fill="#fff" stroke="#000" stroke-width="1.2"/>
<path d="M462.10,270.00L462.10,267.03L462.80,267.66L463.50,267.72L464.20,267.00L464.91,267.02L465.61,267.28L466.31,267.53L467.01,267.19L467.71,267.19L468.41,267.35L469.11,266.96L469.81,267.11L470.52,266.73L471.22,266.67L471.92,267.08L472.62,266.68L473.32,266.72L474.02,266.87L474.72,266.76L475.43,266.70L476.13,267.00L476.83,266.20L477.53,266.76L478.23,266.34L478.93,266.47L479.63,265.96L480.34,265.70L481.04,265.85L481.74,265.20L482.44,265.25L483.14,264.95L483.84,264.14L484.54,263.74L485.24,263.23L485.95,262.23L486.65,261.38L487.35,260.70L488.05,258.17L488.75,257.40L489.45,256.13L490.15,253.50L490.86,251.12L491.56,250.43L492.26,248.66L492.96,244.99L493.66,244.79L494.36,240.66L495.06,241.91L495.76,237.43L496.47,239.03L497.17,234.96L497.87,236.58L498.57,234.25L499.27,231.04L499.97,230.25L500.67,224.56L501.38,228.08L502.08,227.84L502.78,223.80L503.48,226.92L504.18,232.56L504.88,235.96L505.58,237.47L506.29,239.83L506.99,241.70L507.69,244.88L508.39,249.20L509.09,251.17L509.79,252.87L510.49,255.71L511.19,258.51L511.90,259.99L512.60,261.63L513.30,262.68L514.00,264.09L514.00,270.00Z" fill="#000"/>
<line x1="457.9" y1="223.80" x2="462.1" y2="223.80" stroke="#000" stroke-width="1.25"/>
<line x1="459.4" y1="225.73" x2="462.1" y2="225.73" stroke="#000" stroke-width="1.25"/>
<line x1="459.4" y1="227.65" x2="462.1" y2="227.65" stroke="#000" stroke-width="1.25"/>
<line x1="459.4" y1="229.58" x2="462.1" y2="229.58" stroke="#000" stroke-width="1.25"/>
<line x1="459.4" y1="231.50" x2="462.1" y2="231.50" stroke="#000" stroke-width="1.25"/>
<line x1="459.4" y1="233.43" x2="462.1" y2="233.43" stroke="#000" stroke-width="1.25"/>
<line x1="457.9" y1="235.35" x2="462.1" y2="235.35" stroke="#000" stroke-width="1.25"/>
<line x1="459.4" y1="237.28" x2="462.1" y2="237.28" stroke="#000" stroke-width="1.25"/>
<line x1="459.4" y1="239.20" x2="462.1" y2="239.20" stroke="#000" stroke-width="1.25"/>
<line x1="459.4" y1="241.13" x2="462.1" y2="241.13" stroke="#000" stroke-width="1.25"/>
<line x1="459.4" y1="243.05" x2="462.1" y2="243.05" stroke="#000" stroke-width="1.25"/>
<line x1="459.4" y1="244.98" x2="462.1" y2="244.98" stroke="#000" stroke-width="1.25"/>
<line x1="457.9" y1="246.90" x2="462.1" y2="246.90" stroke="#000" stroke-width="1.25"/>
<line x1="459.4" y1="248.83" x2="462.1" y2="248.83" stroke="#000" stroke-width="1.25"/>
<line x1="459.4" y1="250.75" x2="462.1" y2="250.75" stroke="#000" stroke-width="1.25"/>
<line x1="459.4" y1="252.68" x2="462.1" y2="252.68" stroke="#000" stroke-width="1.25"/>
<line x1="459.4" y1="254.60" x2="462.1" y2="254.60" stroke="#000" stroke-width="1.25"/>
<line x1="459.4" y1="256.53" x2="462.1" y2="256.53" stroke="#000" stroke-width="1.25"/>
<line x1="457.9" y1="258.45" x2="462.1" y2="258.45" stroke="#000" stroke-width="1.25"/>
<line x1="459.4" y1="260.38" x2="462.1" y2="260.38" stroke="#000" stroke-width="1.25"/>
<line x1="459.4" y1="262.30" x2="462.1" y2="262.30" stroke="#000" stroke-width="1.25"/>
<line x1="459.4" y1="264.23" x2="462.1" y2="264.23" stroke="#000" stroke-width="1.25"/>
<line x1="459.4" y1="266.15" x2="462.1" y2="266.15" stroke="#000" stroke-width="1.25"/>
<line x1="459.4" y1="268.08" x2="462.1" y2="268.08" stroke="#000" stroke-width="1.25"/>
<line x1="457.9" y1="270.00" x2="462.1" y2="270.00" stroke="#000" stroke-width="1.25"/>
<line x1="462.1" y1="270.0" x2="462.1" y2="273.4" stroke="#111" stroke-width="0.9"/>
<line x1="466.0" y1="270.0" x2="466.0" y2="272.2" stroke="#111" stroke-width="0.9"/>
<line x1="468.3" y1="270.0" x2="468.3" y2="272.2" stroke="#111" stroke-width="0.9"/>
<line x1="469.9" y1="270.0" x2="469.9" y2="272.2" stroke="#111" stroke-width="0.9"/>
<line x1="471.2" y1="270.0" x2="471.2" y2="272.2" stroke="#111" stroke-width="0.9"/>
<line x1="472.2" y1="270.0" x2="472.2" y2="272.2" stroke="#111" stroke-width="0.9"/>
<line x1="473.1" y1="270.0" x2="473.1" y2="272.2" stroke="#111" stroke-width="0.9"/>
<line x1="473.8" y1="270.0" x2="473.8" y2="272.2" stroke="#111" stroke-width="0.9"/>
<line x1="474.5" y1="270.0" x2="474.5" y2="272.2" stroke="#111" stroke-width="0.9"/>
<line x1="475.1" y1="270.0" x2="475.1" y2="273.4" stroke="#111" stroke-width="0.9"/>
<line x1="479.0" y1="270.0" x2="479.0" y2="272.2" stroke="#111" stroke-width="0.9"/>
<line x1="481.3" y1="270.0" x2="481.3" y2="272.2" stroke="#111" stroke-width="0.9"/>
<line x1="482.9" y1="270.0" x2="482.9" y2="272.2" stroke="#111" stroke-width="0.9"/>
<line x1="484.1" y1="270.0" x2="484.1" y2="272.2" stroke="#111" stroke-width="0.9"/>
<line x1="485.2" y1="270.0" x2="485.2" y2="272.2" stroke="#111" stroke-width="0.9"/>
<line x1="486.0" y1="270.0" x2="486.0" y2="272.2" stroke="#111" stroke-width="0.9"/>
<line x1="486.8" y1="270.0" x2="486.8" y2="272.2" stroke="#111" stroke-width="0.9"/>
<line x1="487.5" y1="270.0" x2="487.5" y2="272.2" stroke="#111" stroke-width="0.9"/>
<line x1="488.1" y1="270.0" x2="488.1" y2="273.4" stroke="#111" stroke-width="0.9"/>
<line x1="492.0" y1="270.0" x2="492.0" y2="272.2" stroke="#111" stroke-width="0.9"/>
<line x1="494.2" y1="270.0" x2="494.2" y2="272.2" stroke="#111" stroke-width="0.9"/>
<line x1="495.9" y1="270.0" x2="495.9" y2="272.2" stroke="#111" stroke-width="0.9"/>
<line x1="497.1" y1="270.0" x2="497.1" y2="272.2" stroke="#111" stroke-width="0.9"/>
<line x1="498.1" y1="270.0" x2="498.1" y2="272.2" stroke="#111" stroke-width="0.9"/>
<line x1="499.0" y1="270.0" x2="499.0" y2="272.2" stroke="#111" stroke-width="0.9"/>
<line x1="499.8" y1="270.0" x2="499.8" y2="272.2" stroke="#111" stroke-width="0.9"/>
<line x1="500.4" y1="270.0" x2="500.4" y2="272.2" stroke="#111" stroke-width="0.9"/>
<line x1="501.0" y1="270.0" x2="501.0" y2="273.4" stroke="#111" stroke-width="0.9"/>
<line x1="504.9" y1="270.0" x2="504.9" y2="272.2" stroke="#111" stroke-width="0.9"/>
<line x1="507.2" y1="270.0" x2="507.2" y2="272.2" stroke="#111" stroke-width="0.9"/>
<line x1="508.8" y1="270.0" x2="508.8" y2="272.2" stroke="#111" stroke-width="0.9"/>
<line x1="510.1" y1="270.0" x2="510.1" y2="272.2" stroke="#111" stroke-width="0.9"/>
<line x1="511.1" y1="270.0" x2="511.1" y2="272.2" stroke="#111" stroke-width="0.9"/>
<line x1="512.0" y1="270.0" x2="512.0" y2="272.2" stroke="#111" stroke-width="0.9"/>
<line x1="512.7" y1="270.0" x2="512.7" y2="272.2" stroke="#111" stroke-width="0.9"/>
<line x1="513.4" y1="270.0" x2="513.4" y2="272.2" stroke="#111" stroke-width="0.9"/>
<line x1="514.0" y1="270.0" x2="514.0" y2="273.4" stroke="#222" stroke-width="0.7"/>
<text x="457.0" y="282.5" font-size="8.3" font-family="Liberation Sans, sans-serif" font-weight="normal" textLength="7.5" lengthAdjust="spacingAndGlyphs">10</text>
<text x="464.4" y="278.8" font-size="7.8" font-family="Liberation Sans, sans-serif">0</text>
<text x="506.9" y="282.5" font-size="8.3" font-family="Liberation Sans, sans-serif" font-weight="normal" textLength="7.5" lengthAdjust="spacingAndGlyphs">10</text>
<text x="514.3" y="278.8" font-size="7.8" font-family="Liberation Sans, sans-serif">4</text>
<line x1="465.5" y1="288.4" x2="508.5" y2="288.4" stroke="#000" stroke-width="2.8"/>
<polygon points="515.0,288.4 507.0,284.3 507.0,292.5" fill="#000"/>
<text x="486.2" y="300.7" font-size="12.3" text-anchor="middle" font-family="Liberation Serif, serif" font-weight="normal" >CD86</text>
<rect x="324.8" y="305.1" width="51.7" height="46.1" fill="#fff" stroke="#000" stroke-width="1.2"/>
<path d="M324.80,351.20L324.80,349.51L325.51,349.54L326.22,349.11L326.92,349.27L327.63,349.08L328.34,348.92L329.05,348.49L329.76,348.67L330.47,348.54L331.17,348.25L331.88,348.58L332.59,348.34L333.30,348.14L334.01,348.35L334.72,348.04L335.42,347.46L336.13,346.45L336.84,345.58L337.55,345.02L338.26,343.86L338.96,338.68L339.67,333.28L340.38,327.20L341.09,321.22L341.80,312.84L342.51,310.56L343.21,308.19L343.92,307.40L344.63,314.97L345.34,319.97L346.05,327.80L346.75,332.16L347.46,337.30L348.17,341.65L348.88,343.83L349.59,344.36L350.30,346.00L351.00,347.10L351.71,347.87L352.42,348.04L353.13,348.36L353.84,348.50L354.55,348.47L355.25,348.75L355.96,348.73L356.67,348.73L357.38,348.93L358.09,348.71L358.79,349.02L359.50,348.85L360.21,349.03L360.92,349.38L361.63,349.03L362.34,349.28L363.04,349.49L363.75,349.13L364.46,349.46L365.17,349.00L365.88,349.13L366.58,349.11L367.29,349.05L368.00,349.07L368.71,349.30L369.42,349.22L370.13,349.18L370.83,349.51L371.54,349.67L372.25,349.68L372.96,349.65L373.67,349.47L374.38,349.28L375.08,349.41L375.79,349.49L376.50,349.32L376.50,351.20Z" fill="#000"/>
<line x1="320.6" y1="305.10" x2="324.8" y2="305.10" stroke="#000" stroke-width="1.25"/>
<line x1="322.1" y1="307.02" x2="324.8" y2="307.02" stroke="#000" stroke-width="1.25"/>
<line x1="322.1" y1="308.94" x2="324.8" y2="308.94" stroke="#000" stroke-width="1.25"/>
<line x1="322.1" y1="310.86" x2="324.8" y2="310.86" stroke="#000" stroke-width="1.25"/>
<line x1="322.1" y1="312.78" x2="324.8" y2="312.78" stroke="#000" stroke-width="1.25"/>
<line x1="322.1" y1="314.70" x2="324.8" y2="314.70" stroke="#000" stroke-width="1.25"/>
<line x1="320.6" y1="316.63" x2="324.8" y2="316.63" stroke="#000" stroke-width="1.25"/>
<line x1="322.1" y1="318.55" x2="324.8" y2="318.55" stroke="#000" stroke-width="1.25"/>
<line x1="322.1" y1="320.47" x2="324.8" y2="320.47" stroke="#000" stroke-width="1.25"/>
<line x1="322.1" y1="322.39" x2="324.8" y2="322.39" stroke="#000" stroke-width="1.25"/>
<line x1="322.1" y1="324.31" x2="324.8" y2="324.31" stroke="#000" stroke-width="1.25"/>
<line x1="322.1" y1="326.23" x2="324.8" y2="326.23" stroke="#000" stroke-width="1.25"/>
<line x1="320.6" y1="328.15" x2="324.8" y2="328.15" stroke="#000" stroke-width="1.25"/>
<line x1="322.1" y1="330.07" x2="324.8" y2="330.07" stroke="#000" stroke-width="1.25"/>
<line x1="322.1" y1="331.99" x2="324.8" y2="331.99" stroke="#000" stroke-width="1.25"/>
<line x1="322.1" y1="333.91" x2="324.8" y2="333.91" stroke="#000" stroke-width="1.25"/>
<line x1="322.1" y1="335.83" x2="324.8" y2="335.83" stroke="#000" stroke-width="1.25"/>
<line x1="322.1" y1="337.75" x2="324.8" y2="337.75" stroke="#000" stroke-width="1.25"/>
<line x1="320.6" y1="339.68" x2="324.8" y2="339.68" stroke="#000" stroke-width="1.25"/>
<line x1="322.1" y1="341.60" x2="324.8" y2="341.60" stroke="#000" stroke-width="1.25"/>
<line x1="322.1" y1="343.52" x2="324.8" y2="343.52" stroke="#000" stroke-width="1.25"/>
<line x1="322.1" y1="345.44" x2="324.8" y2="345.44" stroke="#000" stroke-width="1.25"/>
<line x1="322.1" y1="347.36" x2="324.8" y2="347.36" stroke="#000" stroke-width="1.25"/>
<line x1="322.1" y1="349.28" x2="324.8" y2="349.28" stroke="#000" stroke-width="1.25"/>
<line x1="320.6" y1="351.20" x2="324.8" y2="351.20" stroke="#000" stroke-width="1.25"/>
<line x1="324.8" y1="351.2" x2="324.8" y2="354.6" stroke="#111" stroke-width="0.9"/>
<line x1="328.7" y1="351.2" x2="328.7" y2="353.4" stroke="#111" stroke-width="0.9"/>
<line x1="331.0" y1="351.2" x2="331.0" y2="353.4" stroke="#111" stroke-width="0.9"/>
<line x1="332.6" y1="351.2" x2="332.6" y2="353.4" stroke="#111" stroke-width="0.9"/>
<line x1="333.8" y1="351.2" x2="333.8" y2="353.4" stroke="#111" stroke-width="0.9"/>
<line x1="334.9" y1="351.2" x2="334.9" y2="353.4" stroke="#111" stroke-width="0.9"/>
<line x1="335.7" y1="351.2" x2="335.7" y2="353.4" stroke="#111" stroke-width="0.9"/>
<line x1="336.5" y1="351.2" x2="336.5" y2="353.4" stroke="#111" stroke-width="0.9"/>
<line x1="337.1" y1="351.2" x2="337.1" y2="353.4" stroke="#111" stroke-width="0.9"/>
<line x1="337.7" y1="351.2" x2="337.7" y2="354.6" stroke="#111" stroke-width="0.9"/>
<line x1="341.6" y1="351.2" x2="341.6" y2="353.4" stroke="#111" stroke-width="0.9"/>
<line x1="343.9" y1="351.2" x2="343.9" y2="353.4" stroke="#111" stroke-width="0.9"/>
<line x1="345.5" y1="351.2" x2="345.5" y2="353.4" stroke="#111" stroke-width="0.9"/>
<line x1="346.8" y1="351.2" x2="346.8" y2="353.4" stroke="#111" stroke-width="0.9"/>
<line x1="347.8" y1="351.2" x2="347.8" y2="353.4" stroke="#111" stroke-width="0.9"/>
<line x1="348.6" y1="351.2" x2="348.6" y2="353.4" stroke="#111" stroke-width="0.9"/>
<line x1="349.4" y1="351.2" x2="349.4" y2="353.4" stroke="#111" stroke-width="0.9"/>
<line x1="350.1" y1="351.2" x2="350.1" y2="353.4" stroke="#111" stroke-width="0.9"/>
<line x1="350.6" y1="351.2" x2="350.6" y2="354.6" stroke="#111" stroke-width="0.9"/>
<line x1="354.5" y1="351.2" x2="354.5" y2="353.4" stroke="#111" stroke-width="0.9"/>
<line x1="356.8" y1="351.2" x2="356.8" y2="353.4" stroke="#111" stroke-width="0.9"/>
<line x1="358.4" y1="351.2" x2="358.4" y2="353.4" stroke="#111" stroke-width="0.9"/>
<line x1="359.7" y1="351.2" x2="359.7" y2="353.4" stroke="#111" stroke-width="0.9"/>
<line x1="360.7" y1="351.2" x2="360.7" y2="353.4" stroke="#111" stroke-width="0.9"/>
<line x1="361.6" y1="351.2" x2="361.6" y2="353.4" stroke="#111" stroke-width="0.9"/>
<line x1="362.3" y1="351.2" x2="362.3" y2="353.4" stroke="#111" stroke-width="0.9"/>
<line x1="363.0" y1="351.2" x2="363.0" y2="353.4" stroke="#111" stroke-width="0.9"/>
<line x1="363.6" y1="351.2" x2="363.6" y2="354.6" stroke="#111" stroke-width="0.9"/>
<line x1="367.5" y1="351.2" x2="367.5" y2="353.4" stroke="#111" stroke-width="0.9"/>
<line x1="369.7" y1="351.2" x2="369.7" y2="353.4" stroke="#111" stroke-width="0.9"/>
<line x1="371.4" y1="351.2" x2="371.4" y2="353.4" stroke="#111" stroke-width="0.9"/>
<line x1="372.6" y1="351.2" x2="372.6" y2="353.4" stroke="#111" stroke-width="0.9"/>
<line x1="373.6" y1="351.2" x2="373.6" y2="353.4" stroke="#111" stroke-width="0.9"/>
<line x1="374.5" y1="351.2" x2="374.5" y2="353.4" stroke="#111" stroke-width="0.9"/>
<line x1="375.2" y1="351.2" x2="375.2" y2="353.4" stroke="#111" stroke-width="0.9"/>
<line x1="375.9" y1="351.2" x2="375.9" y2="353.4" stroke="#111" stroke-width="0.9"/>
<line x1="376.5" y1="351.2" x2="376.5" y2="354.6" stroke="#222" stroke-width="0.7"/>
<text x="320.7" y="364.6" font-size="8.0" font-family="Liberation Sans, sans-serif" font-weight="bold" textLength="7.5" lengthAdjust="spacingAndGlyphs">10</text>
<text x="328.1" y="360.9" font-size="7.8" font-family="Liberation Sans, sans-serif">0</text>
<text x="370.5" y="364.6" font-size="8.0" font-family="Liberation Sans, sans-serif" font-weight="bold" textLength="7.5" lengthAdjust="spacingAndGlyphs">10</text>
<text x="377.9" y="360.9" font-size="7.8" font-family="Liberation Sans, sans-serif">4</text>
<line x1="325.5" y1="368.2" x2="368.1" y2="368.2" stroke="#000" stroke-width="2.8"/>
<polygon points="374.6,368.2 366.6,364.1 366.6,372.3" fill="#000"/>
<text x="351.5" y="384.0" font-size="12.6" text-anchor="middle" font-family="Liberation Serif, serif" font-weight="normal" >HLA-DR</text>
<rect x="393.5" y="305.0" width="53.0" height="46.0" fill="#fff" stroke="#000" stroke-width="1.2"/>
<path d="M393.50,351.00L393.50,348.96L394.21,348.97L394.91,348.71L395.62,348.86L396.33,348.47L397.03,348.51L397.74,348.71L398.45,348.81L399.15,348.51L399.86,348.46L400.57,348.63L401.27,348.39L401.98,348.64L402.69,348.48L403.39,348.47L404.10,348.37L404.81,348.50L405.51,348.07L406.22,348.07L406.93,348.40L407.63,348.21L408.34,347.94L409.05,348.14L409.75,347.88L410.46,348.28L411.17,347.83L411.87,344.90L412.58,344.14L413.29,343.58L413.99,343.43L414.70,342.95L415.41,342.76L416.11,342.24L416.82,342.07L417.53,342.57L418.23,341.10L418.94,341.30L419.65,340.60L420.35,339.95L421.06,338.00L421.77,335.70L422.47,332.03L423.18,329.12L423.89,324.83L424.59,316.60L425.30,312.28L426.01,313.49L426.71,308.12L427.42,305.00L428.13,308.02L428.83,308.07L429.54,312.48L430.25,315.88L430.95,318.11L431.66,321.48L432.37,325.26L433.07,326.69L433.78,330.47L434.49,333.38L435.19,333.10L435.90,334.97L436.61,336.30L437.31,337.57L438.02,338.60L438.73,339.05L439.43,340.49L440.14,340.32L440.85,341.35L441.55,342.10L442.26,342.79L442.97,343.29L443.67,343.81L444.38,344.64L445.09,345.32L445.79,346.13L446.50,346.94L446.50,351.00Z" fill="#000"/>
<line x1="389.3" y1="305.00" x2="393.5" y2="305.00" stroke="#000" stroke-width="1.25"/>
<line x1="390.8" y1="306.92" x2="393.5" y2="306.92" stroke="#000" stroke-width="1.25"/>
<line x1="390.8" y1="308.83" x2="393.5" y2="308.83" stroke="#000" stroke-width="1.25"/>
<line x1="390.8" y1="310.75" x2="393.5" y2="310.75" stroke="#000" stroke-width="1.25"/>
<line x1="390.8" y1="312.67" x2="393.5" y2="312.67" stroke="#000" stroke-width="1.25"/>
<line x1="390.8" y1="314.58" x2="393.5" y2="314.58" stroke="#000" stroke-width="1.25"/>
<line x1="389.3" y1="316.50" x2="393.5" y2="316.50" stroke="#000" stroke-width="1.25"/>
<line x1="390.8" y1="318.42" x2="393.5" y2="318.42" stroke="#000" stroke-width="1.25"/>
<line x1="390.8" y1="320.33" x2="393.5" y2="320.33" stroke="#000" stroke-width="1.25"/>
<line x1="390.8" y1="322.25" x2="393.5" y2="322.25" stroke="#000" stroke-width="1.25"/>
<line x1="390.8" y1="324.17" x2="393.5" y2="324.17" stroke="#000" stroke-width="1.25"/>
<line x1="390.8" y1="326.08" x2="393.5" y2="326.08" stroke="#000" stroke-width="1.25"/>
<line x1="389.3" y1="328.00" x2="393.5" y2="328.00" stroke="#000" stroke-width="1.25"/>
<line x1="390.8" y1="329.92" x2="393.5" y2="329.92" stroke="#000" stroke-width="1.25"/>
<line x1="390.8" y1="331.83" x2="393.5" y2="331.83" stroke="#000" stroke-width="1.25"/>
<line x1="390.8" y1="333.75" x2="393.5" y2="333.75" stroke="#000" stroke-width="1.25"/>
<line x1="390.8" y1="335.67" x2="393.5" y2="335.67" stroke="#000" stroke-width="1.25"/>
<line x1="390.8" y1="337.58" x2="393.5" y2="337.58" stroke="#000" stroke-width="1.25"/>
<line x1="389.3" y1="339.50" x2="393.5" y2="339.50" stroke="#000" stroke-width="1.25"/>
<line x1="390.8" y1="341.42" x2="393.5" y2="341.42" stroke="#000" stroke-width="1.25"/>
<line x1="390.8" y1="343.33" x2="393.5" y2="343.33" stroke="#000" stroke-width="1.25"/>
<line x1="390.8" y1="345.25" x2="393.5" y2="345.25" stroke="#000" stroke-width="1.25"/>
<line x1="390.8" y1="347.17" x2="393.5" y2="347.17" stroke="#000" stroke-width="1.25"/>
<line x1="390.8" y1="349.08" x2="393.5" y2="349.08" stroke="#000" stroke-width="1.25"/>
<line x1="389.3" y1="351.00" x2="393.5" y2="351.00" stroke="#000" stroke-width="1.25"/>
<line x1="393.5" y1="351.0" x2="393.5" y2="354.4" stroke="#111" stroke-width="0.9"/>
<line x1="397.5" y1="351.0" x2="397.5" y2="353.2" stroke="#111" stroke-width="0.9"/>
<line x1="399.8" y1="351.0" x2="399.8" y2="353.2" stroke="#111" stroke-width="0.9"/>
<line x1="401.5" y1="351.0" x2="401.5" y2="353.2" stroke="#111" stroke-width="0.9"/>
<line x1="402.8" y1="351.0" x2="402.8" y2="353.2" stroke="#111" stroke-width="0.9"/>
<line x1="403.8" y1="351.0" x2="403.8" y2="353.2" stroke="#111" stroke-width="0.9"/>
<line x1="404.7" y1="351.0" x2="404.7" y2="353.2" stroke="#111" stroke-width="0.9"/>
<line x1="405.5" y1="351.0" x2="405.5" y2="353.2" stroke="#111" stroke-width="0.9"/>
<line x1="406.1" y1="351.0" x2="406.1" y2="353.2" stroke="#111" stroke-width="0.9"/>
<line x1="406.8" y1="351.0" x2="406.8" y2="354.4" stroke="#111" stroke-width="0.9"/>
<line x1="410.7" y1="351.0" x2="410.7" y2="353.2" stroke="#111" stroke-width="0.9"/>
<line x1="413.1" y1="351.0" x2="413.1" y2="353.2" stroke="#111" stroke-width="0.9"/>
<line x1="414.7" y1="351.0" x2="414.7" y2="353.2" stroke="#111" stroke-width="0.9"/>
<line x1="416.0" y1="351.0" x2="416.0" y2="353.2" stroke="#111" stroke-width="0.9"/>
<line x1="417.1" y1="351.0" x2="417.1" y2="353.2" stroke="#111" stroke-width="0.9"/>
<line x1="417.9" y1="351.0" x2="417.9" y2="353.2" stroke="#111" stroke-width="0.9"/>
<line x1="418.7" y1="351.0" x2="418.7" y2="353.2" stroke="#111" stroke-width="0.9"/>
<line x1="419.4" y1="351.0" x2="419.4" y2="353.2" stroke="#111" stroke-width="0.9"/>
<line x1="420.0" y1="351.0" x2="420.0" y2="354.4" stroke="#111" stroke-width="0.9"/>
<line x1="424.0" y1="351.0" x2="424.0" y2="353.2" stroke="#111" stroke-width="0.9"/>
<line x1="426.3" y1="351.0" x2="426.3" y2="353.2" stroke="#111" stroke-width="0.9"/>
<line x1="428.0" y1="351.0" x2="428.0" y2="353.2" stroke="#111" stroke-width="0.9"/>
<line x1="429.3" y1="351.0" x2="429.3" y2="353.2" stroke="#111" stroke-width="0.9"/>
<line x1="430.3" y1="351.0" x2="430.3" y2="353.2" stroke="#111" stroke-width="0.9"/>
<line x1="431.2" y1="351.0" x2="431.2" y2="353.2" stroke="#111" stroke-width="0.9"/>
<line x1="432.0" y1="351.0" x2="432.0" y2="353.2" stroke="#111" stroke-width="0.9"/>
<line x1="432.6" y1="351.0" x2="432.6" y2="353.2" stroke="#111" stroke-width="0.9"/>
<line x1="433.2" y1="351.0" x2="433.2" y2="354.4" stroke="#111" stroke-width="0.9"/>
<line x1="437.2" y1="351.0" x2="437.2" y2="353.2" stroke="#111" stroke-width="0.9"/>
<line x1="439.6" y1="351.0" x2="439.6" y2="353.2" stroke="#111" stroke-width="0.9"/>
<line x1="441.2" y1="351.0" x2="441.2" y2="353.2" stroke="#111" stroke-width="0.9"/>
<line x1="442.5" y1="351.0" x2="442.5" y2="353.2" stroke="#111" stroke-width="0.9"/>
<line x1="443.6" y1="351.0" x2="443.6" y2="353.2" stroke="#111" stroke-width="0.9"/>
<line x1="444.4" y1="351.0" x2="444.4" y2="353.2" stroke="#111" stroke-width="0.9"/>
<line x1="445.2" y1="351.0" x2="445.2" y2="353.2" stroke="#111" stroke-width="0.9"/>
<line x1="445.9" y1="351.0" x2="445.9" y2="353.2" stroke="#111" stroke-width="0.9"/>
<line x1="446.5" y1="351.0" x2="446.5" y2="354.4" stroke="#222" stroke-width="0.7"/>
<text x="388.7" y="364.6" font-size="8.0" font-family="Liberation Sans, sans-serif" font-weight="bold" textLength="7.5" lengthAdjust="spacingAndGlyphs">10</text>
<text x="396.1" y="360.9" font-size="7.8" font-family="Liberation Sans, sans-serif">0</text>
<text x="438.8" y="364.6" font-size="8.0" font-family="Liberation Sans, sans-serif" font-weight="bold" textLength="7.5" lengthAdjust="spacingAndGlyphs">10</text>
<text x="446.2" y="360.9" font-size="7.8" font-family="Liberation Sans, sans-serif">4</text>
<line x1="396.8" y1="368.2" x2="438.8" y2="368.2" stroke="#000" stroke-width="2.8"/>
<polygon points="445.3,368.2 437.3,364.1 437.3,372.3" fill="#000"/>
<text x="421.4" y="384.0" font-size="12.6" text-anchor="middle" font-family="Liberation Serif, serif" font-weight="normal" >HLA-DR</text>
<rect x="462.1" y="305.0" width="51.9" height="46.0" fill="#fff" stroke="#000" stroke-width="1.2"/>
<path d="M462.10,351.00L462.10,349.10L462.80,349.41L463.50,349.11L464.20,349.03L464.91,349.20L465.61,348.90L466.31,349.24L467.01,348.93L467.71,349.02L468.41,348.82L469.11,349.08L469.81,349.25L470.52,348.94L471.22,348.65L471.92,348.84L472.62,348.59L473.32,348.94L474.02,348.54L474.72,348.48L475.43,349.00L476.13,348.51L476.83,348.60L477.53,348.63L478.23,348.44L478.93,348.71L479.63,348.44L480.34,348.39L481.04,348.39L481.74,347.84L482.44,346.93L483.14,346.33L483.84,345.90L484.54,345.68L485.24,344.77L485.95,344.04L486.65,343.37L487.35,343.27L488.05,340.63L488.75,340.10L489.45,337.58L490.15,336.13L490.86,334.81L491.56,333.63L492.26,328.93L492.96,327.16L493.66,323.54L494.36,319.90L495.06,317.60L495.76,318.10L496.47,315.79L497.17,314.19L497.87,312.09L498.57,313.51L499.27,312.69L499.97,315.68L500.67,319.18L501.38,320.28L502.08,319.98L502.78,321.79L503.48,324.49L504.18,324.04L504.88,328.90L505.58,330.38L506.29,330.09L506.99,332.65L507.69,334.13L508.39,335.98L509.09,339.18L509.79,339.23L510.49,341.40L511.19,342.64L511.90,344.35L512.60,345.28L513.30,346.06L514.00,346.93L514.00,351.00Z" fill="#000"/>
<line x1="457.9" y1="305.00" x2="462.1" y2="305.00" stroke="#000" stroke-width="1.25"/>
<line x1="459.4" y1="306.92" x2="462.1" y2="306.92" stroke="#000" stroke-width="1.25"/>
<line x1="459.4" y1="308.83" x2="462.1" y2="308.83" stroke="#000" stroke-width="1.25"/>
<line x1="459.4" y1="310.75" x2="462.1" y2="310.75" stroke="#000" stroke-width="1.25"/>
<line x1="459.4" y1="312.67" x2="462.1" y2="312.67" stroke="#000" stroke-width="1.25"/>
<line x1="459.4" y1="314.58" x2="462.1" y2="314.58" stroke="#000" stroke-width="1.25"/>
<line x1="457.9" y1="316.50" x2="462.1" y2="316.50" stroke="#000" stroke-width="1.25"/>
<line x1="459.4" y1="318.42" x2="462.1" y2="318.42" stroke="#000" stroke-width="1.25"/>
<line x1="459.4" y1="320.33" x2="462.1" y2="320.33" stroke="#000" stroke-width="1.25"/>
<line x1="459.4" y1="322.25" x2="462.1" y2="322.25" stroke="#000" stroke-width="1.25"/>
<line x1="459.4" y1="324.17" x2="462.1" y2="324.17" stroke="#000" stroke-width="1.25"/>
<line x1="459.4" y1="326.08" x2="462.1" y2="326.08" stroke="#000" stroke-width="1.25"/>
<line x1="457.9" y1="328.00" x2="462.1" y2="328.00" stroke="#000" stroke-width="1.25"/>
<line x1="459.4" y1="329.92" x2="462.1" y2="329.92" stroke="#000" stroke-width="1.25"/>
<line x1="459.4" y1="331.83" x2="462.1" y2="331.83" stroke="#000" stroke-width="1.25"/>
<line x1="459.4" y1="333.75" x2="462.1" y2="333.75" stroke="#000" stroke-width="1.25"/>
<line x1="459.4" y1="335.67" x2="462.1" y2="335.67" stroke="#000" stroke-width="1.25"/>
<line x1="459.4" y1="337.58" x2="462.1" y2="337.58" stroke="#000" stroke-width="1.25"/>
<line x1="457.9" y1="339.50" x2="462.1" y2="339.50" stroke="#000" stroke-width="1.25"/>
<line x1="459.4" y1="341.42" x2="462.1" y2="341.42" stroke="#000" stroke-width="1.25"/>
<line x1="459.4" y1="343.33" x2="462.1" y2="343.33" stroke="#000" stroke-width="1.25"/>
<line x1="459.4" y1="345.25" x2="462.1" y2="345.25" stroke="#000" stroke-width="1.25"/>
<line x1="459.4" y1="347.17" x2="462.1" y2="347.17" stroke="#000" stroke-width="1.25"/>
<line x1="459.4" y1="349.08" x2="462.1" y2="349.08" stroke="#000" stroke-width="1.25"/>
<line x1="457.9" y1="351.00" x2="462.1" y2="351.00" stroke="#000" stroke-width="1.25"/>
<line x1="462.1" y1="351.0" x2="462.1" y2="354.4" stroke="#111" stroke-width="0.9"/>
<line x1="466.0" y1="351.0" x2="466.0" y2="353.2" stroke="#111" stroke-width="0.9"/>
<line x1="468.3" y1="351.0" x2="468.3" y2="353.2" stroke="#111" stroke-width="0.9"/>
<line x1="469.9" y1="351.0" x2="469.9" y2="353.2" stroke="#111" stroke-width="0.9"/>
<line x1="471.2" y1="351.0" x2="471.2" y2="353.2" stroke="#111" stroke-width="0.9"/>
<line x1="472.2" y1="351.0" x2="472.2" y2="353.2" stroke="#111" stroke-width="0.9"/>
<line x1="473.1" y1="351.0" x2="473.1" y2="353.2" stroke="#111" stroke-width="0.9"/>
<line x1="473.8" y1="351.0" x2="473.8" y2="353.2" stroke="#111" stroke-width="0.9"/>
<line x1="474.5" y1="351.0" x2="474.5" y2="353.2" stroke="#111" stroke-width="0.9"/>
<line x1="475.1" y1="351.0" x2="475.1" y2="354.4" stroke="#111" stroke-width="0.9"/>
<line x1="479.0" y1="351.0" x2="479.0" y2="353.2" stroke="#111" stroke-width="0.9"/>
<line x1="481.3" y1="351.0" x2="481.3" y2="353.2" stroke="#111" stroke-width="0.9"/>
<line x1="482.9" y1="351.0" x2="482.9" y2="353.2" stroke="#111" stroke-width="0.9"/>
<line x1="484.1" y1="351.0" x2="484.1" y2="353.2" stroke="#111" stroke-width="0.9"/>
<line x1="485.2" y1="351.0" x2="485.2" y2="353.2" stroke="#111" stroke-width="0.9"/>
<line x1="486.0" y1="351.0" x2="486.0" y2="353.2" stroke="#111" stroke-width="0.9"/>
<line x1="486.8" y1="351.0" x2="486.8" y2="353.2" stroke="#111" stroke-width="0.9"/>
<line x1="487.5" y1="351.0" x2="487.5" y2="353.2" stroke="#111" stroke-width="0.9"/>
<line x1="488.1" y1="351.0" x2="488.1" y2="354.4" stroke="#111" stroke-width="0.9"/>
<line x1="492.0" y1="351.0" x2="492.0" y2="353.2" stroke="#111" stroke-width="0.9"/>
<line x1="494.2" y1="351.0" x2="494.2" y2="353.2" stroke="#111" stroke-width="0.9"/>
<line x1="495.9" y1="351.0" x2="495.9" y2="353.2" stroke="#111" stroke-width="0.9"/>
<line x1="497.1" y1="351.0" x2="497.1" y2="353.2" stroke="#111" stroke-width="0.9"/>
<line x1="498.1" y1="351.0" x2="498.1" y2="353.2" stroke="#111" stroke-width="0.9"/>
<line x1="499.0" y1="351.0" x2="499.0" y2="353.2" stroke="#111" stroke-width="0.9"/>
<line x1="499.8" y1="351.0" x2="499.8" y2="353.2" stroke="#111" stroke-width="0.9"/>
<line x1="500.4" y1="351.0" x2="500.4" y2="353.2" stroke="#111" stroke-width="0.9"/>
<line x1="501.0" y1="351.0" x2="501.0" y2="354.4" stroke="#111" stroke-width="0.9"/>
<line x1="504.9" y1="351.0" x2="504.9" y2="353.2" stroke="#111" stroke-width="0.9"/>
<line x1="507.2" y1="351.0" x2="507.2" y2="353.2" stroke="#111" stroke-width="0.9"/>
<line x1="508.8" y1="351.0" x2="508.8" y2="353.2" stroke="#111" stroke-width="0.9"/>
<line x1="510.1" y1="351.0" x2="510.1" y2="353.2" stroke="#111" stroke-width="0.9"/>
<line x1="511.1" y1="351.0" x2="511.1" y2="353.2" stroke="#111" stroke-width="0.9"/>
<line x1="512.0" y1="351.0" x2="512.0" y2="353.2" stroke="#111" stroke-width="0.9"/>
<line x1="512.7" y1="351.0" x2="512.7" y2="353.2" stroke="#111" stroke-width="0.9"/>
<line x1="513.4" y1="351.0" x2="513.4" y2="353.2" stroke="#111" stroke-width="0.9"/>
<line x1="514.0" y1="351.0" x2="514.0" y2="354.4" stroke="#222" stroke-width="0.7"/>
<text x="457.8" y="364.6" font-size="8.0" font-family="Liberation Sans, sans-serif" font-weight="bold" textLength="7.5" lengthAdjust="spacingAndGlyphs">10</text>
<text x="465.2" y="360.9" font-size="7.8" font-family="Liberation Sans, sans-serif">0</text>
<text x="506.9" y="364.6" font-size="8.0" font-family="Liberation Sans, sans-serif" font-weight="bold" textLength="7.5" lengthAdjust="spacingAndGlyphs">10</text>
<text x="514.3" y="360.9" font-size="7.8" font-family="Liberation Sans, sans-serif">4</text>
<line x1="462.5" y1="367.8" x2="505.5" y2="367.8" stroke="#000" stroke-width="2.8"/>
<polygon points="512.0,367.8 504.0,363.7 504.0,371.9" fill="#000"/>
<text x="487.0" y="384.0" font-size="12.6" text-anchor="middle" font-family="Liberation Serif, serif" font-weight="normal" >HLA-DR</text>
</g>
</svg>
</body></html>
